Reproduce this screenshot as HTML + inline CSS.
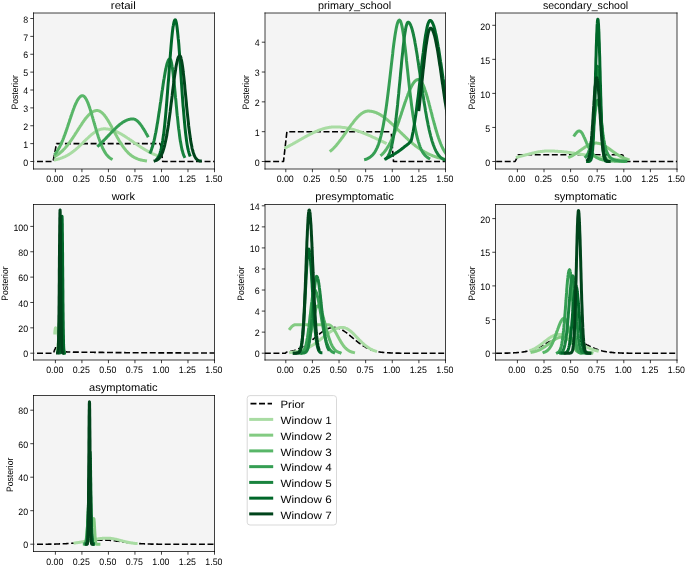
<!DOCTYPE html>
<html><head><meta charset="utf-8"><title>Posterior</title><style>html,body{margin:0;padding:0;background:#fff;width:685px;height:565px;overflow:hidden;}svg{display:block;font-family:"Liberation Sans",sans-serif;text-rendering:geometricPrecision;}svg{will-change:transform}</style></head><body>
<svg width="685" height="565" viewBox="0 0 685 565">
<rect x="0" y="0" width="685" height="565" fill="#fff"/>
<defs>
<clipPath id="c0"><rect x="33.50" y="13.00" width="181.00" height="156.00"/></clipPath>
<clipPath id="c1"><rect x="265.00" y="13.00" width="180.50" height="156.00"/></clipPath>
<clipPath id="c2"><rect x="495.50" y="13.00" width="181.50" height="156.00"/></clipPath>
<clipPath id="c3"><rect x="33.50" y="204.50" width="181.00" height="155.50"/></clipPath>
<clipPath id="c4"><rect x="265.00" y="204.50" width="180.50" height="155.50"/></clipPath>
<clipPath id="c5"><rect x="495.50" y="204.50" width="181.50" height="155.50"/></clipPath>
<clipPath id="c6"><rect x="33.50" y="395.50" width="181.00" height="156.00"/></clipPath>
</defs>
<g font-family='&quot;Liberation Sans&quot;, sans-serif' fill="#000">
<rect x="33.50" y="13.00" width="181.00" height="156.00" fill="#f4f4f4"/>
<g clip-path="url(#c0)" fill="none" stroke-linejoin="round">
<path d="M34.2,161.5 53.1,161.5 56.5,143.6 160.4,143.6" stroke="#000" stroke-width="1.6" stroke-dasharray="5.96,2.59" stroke-dashoffset="5.74"/>
<path d="M160.4,143.6 162.7,161.5 214.5,161.5" stroke="#000" stroke-width="1.6" stroke-dasharray="5.96,2.59" stroke-dashoffset="8.51"/>
<path d="M55.4,159.8 56.0,159.6 56.7,159.5 57.3,159.3 58.0,159.1 58.6,159.0 59.3,158.8 59.9,158.6 60.5,158.4 61.2,158.1 61.8,157.9 62.5,157.7 63.1,157.4 63.7,157.1 64.4,156.8 65.0,156.6 65.7,156.2 66.3,155.9 67.0,155.6 67.6,155.2 68.2,154.8 68.9,154.5 69.5,154.1 70.2,153.6 70.8,153.2 71.4,152.8 72.1,152.3 72.7,151.8 73.4,151.3 74.0,150.8 74.7,150.3 75.3,149.8 75.9,149.3 76.6,148.7 77.2,148.1 77.9,147.6 78.5,147.0 79.1,146.4 79.8,145.8 80.4,145.2 81.1,144.6 81.7,143.9 82.4,143.3 83.0,142.7 83.6,142.1 84.3,141.4 84.9,140.8 85.6,140.2 86.2,139.5 86.8,138.9 87.5,138.3 88.1,137.7 88.8,137.1 89.4,136.5 90.1,135.9 90.7,135.4 91.3,134.8 92.0,134.3 92.6,133.8 93.3,133.3 93.9,132.8 94.5,132.3 95.2,131.9 95.8,131.5 96.5,131.1 97.1,130.7 97.8,130.4 98.4,130.1 99.0,129.8 99.7,129.6 100.3,129.4 101.0,129.2 101.6,129.1 102.2,128.9 102.9,128.9 103.5,128.8 104.2,128.8 104.8,128.8 105.5,128.8 106.1,128.9 106.7,128.9 107.4,129.0 108.0,129.1 108.7,129.2 109.3,129.3 109.9,129.4 110.6,129.6 111.2,129.8 111.9,129.9 112.5,130.1 113.2,130.4 113.8,130.6 114.4,130.8 115.1,131.1 115.7,131.3 116.4,131.6 117.0,131.9 117.6,132.2 118.3,132.5 118.9,132.8 119.6,133.2 120.2,133.5 120.9,133.9 121.5,134.2 122.1,134.6 122.8,135.0 123.4,135.4 124.1,135.8 124.7,136.2 125.3,136.6 126.0,137.0 126.6,137.4 127.3,137.9 127.9,138.3 128.6,138.7 129.2,139.2 129.8,139.6 130.5,140.0 131.1,140.5 131.8,140.9 132.4,141.4 133.1,141.8 133.7,142.3 134.3,142.7 135.0,143.1 135.6,143.6 136.3,144.0 136.9,144.5 137.5,144.9 138.2,145.3 138.8,145.8 139.5,146.2 140.1,146.6 140.8,147.0 141.4,147.4 142.0,147.8 142.7,148.2 143.3,148.6 144.0,149.0 144.6,149.4 145.2,149.8 145.9,150.2 146.5,150.5 147.2,150.9 147.8,151.2 148.5,151.6 149.1,151.9 149.7,152.3 150.4,152.6 151.0,152.9 151.7,153.2 152.3,153.5 152.9,153.8 153.6,154.1 154.2,154.4 154.9,154.7 155.5,154.9 156.2,155.2 156.8,155.4 157.4,155.7" stroke="#a9dca3" stroke-width="3.00" stroke-linecap="square"/>
<path d="M55.4,156.2 56.0,155.8 56.5,155.5 57.1,155.1 57.7,154.7 58.2,154.3 58.8,153.9 59.4,153.5 59.9,153.0 60.5,152.5 61.1,152.1 61.6,151.5 62.2,151.0 62.8,150.5 63.3,149.9 63.9,149.3 64.5,148.7 65.0,148.1 65.6,147.4 66.2,146.8 66.7,146.1 67.3,145.4 67.9,144.7 68.4,144.0 69.0,143.2 69.6,142.5 70.1,141.7 70.7,140.9 71.3,140.1 71.8,139.3 72.4,138.4 73.0,137.6 73.5,136.7 74.1,135.9 74.7,135.0 75.2,134.1 75.8,133.2 76.4,132.3 76.9,131.5 77.5,130.6 78.1,129.7 78.6,128.8 79.2,127.9 79.8,127.0 80.3,126.1 80.9,125.3 81.5,124.4 82.0,123.6 82.6,122.7 83.2,121.9 83.7,121.1 84.3,120.3 84.9,119.6 85.4,118.8 86.0,118.1 86.5,117.4 87.1,116.7 87.7,116.1 88.2,115.5 88.8,114.9 89.4,114.3 89.9,113.8 90.5,113.3 91.1,112.9 91.6,112.5 92.2,112.1 92.8,111.8 93.3,111.5 93.9,111.2 94.5,111.0 95.0,110.8 95.6,110.7 96.2,110.6 96.7,110.6 97.3,110.6 97.9,110.6 98.4,110.7 99.0,110.9 99.6,111.1 100.1,111.4 100.7,111.8 101.3,112.2 101.8,112.6 102.4,113.1 103.0,113.7 103.5,114.3 104.1,114.9 104.7,115.6 105.2,116.4 105.8,117.2 106.4,118.0 106.9,118.8 107.5,119.7 108.1,120.6 108.6,121.6 109.2,122.5 109.8,123.5 110.3,124.5 110.9,125.6 111.5,126.6 112.0,127.6 112.6,128.7 113.2,129.7 113.7,130.8 114.3,131.9 114.9,132.9 115.4,134.0 116.0,135.0 116.6,136.0 117.1,137.0 117.7,138.1 118.3,139.0 118.8,140.0 119.4,141.0 120.0,141.9 120.5,142.8 121.1,143.7 121.7,144.6 122.2,145.4 122.8,146.3 123.4,147.1 123.9,147.8 124.5,148.6 125.1,149.3 125.6,150.0 126.2,150.7 126.8,151.3 127.3,151.9 127.9,152.5 128.5,153.1 129.0,153.6 129.6,154.1 130.2,154.6 130.7,155.1 131.3,155.5 131.9,155.9 132.4,156.3 133.0,156.7 133.6,157.0 134.1,157.3 134.7,157.7 135.3,157.9 135.8,158.2 136.4,158.5 137.0,158.7 137.5,158.9 138.1,159.1 138.7,159.3 139.2,159.5 139.8,159.7 140.4,159.8 140.9,160.0 141.5,160.1 142.1,160.2 142.6,160.3 143.2,160.4 143.8,160.5 144.3,160.6 144.9,160.7 145.5,160.8" stroke="#83cb82" stroke-width="3.00" stroke-linecap="square"/>
<path d="M55.4,153.6 55.8,153.1 56.1,152.7 56.5,152.2 56.8,151.7 57.2,151.1 57.5,150.6 57.9,150.0 58.2,149.5 58.6,148.9 58.9,148.2 59.3,147.6 59.6,146.9 60.0,146.2 60.3,145.5 60.7,144.8 61.0,144.1 61.4,143.3 61.7,142.5 62.1,141.7 62.4,140.9 62.8,140.0 63.1,139.2 63.5,138.3 63.8,137.4 64.2,136.4 64.5,135.5 64.9,134.6 65.2,133.6 65.6,132.6 65.9,131.6 66.3,130.6 66.6,129.6 67.0,128.6 67.3,127.5 67.7,126.5 68.0,125.4 68.4,124.4 68.7,123.3 69.1,122.2 69.4,121.2 69.8,120.1 70.1,119.1 70.5,118.0 70.8,116.9 71.2,115.9 71.5,114.9 71.9,113.8 72.2,112.8 72.6,111.8 72.9,110.8 73.3,109.9 73.6,108.9 74.0,108.0 74.3,107.1 74.7,106.2 75.0,105.3 75.4,104.5 75.8,103.7 76.1,102.9 76.5,102.2 76.8,101.5 77.2,100.8 77.5,100.2 77.9,99.6 78.2,99.0 78.6,98.5 78.9,98.1 79.3,97.6 79.6,97.2 80.0,96.9 80.3,96.6 80.7,96.3 81.0,96.1 81.4,95.9 81.7,95.8 82.1,95.7 82.4,95.7 82.8,95.7 83.1,95.8 83.5,96.0 83.8,96.2 84.2,96.5 84.5,96.8 84.9,97.2 85.2,97.7 85.6,98.2 85.9,98.7 86.3,99.4 86.6,100.0 87.0,100.8 87.3,101.5 87.7,102.4 88.0,103.2 88.4,104.1 88.7,105.1 89.1,106.1 89.4,107.1 89.8,108.1 90.1,109.2 90.5,110.3 90.8,111.5 91.2,112.6 91.5,113.8 91.9,115.0 92.2,116.2 92.6,117.4 92.9,118.6 93.3,119.8 93.6,121.1 94.0,122.3 94.3,123.5 94.7,124.8 95.1,126.0 95.4,127.2 95.8,128.4 96.1,129.6 96.5,130.8 96.8,131.9 97.2,133.1 97.5,134.2 97.9,135.3 98.2,136.4 98.6,137.5 98.9,138.5 99.3,139.5 99.6,140.5 100.0,141.5 100.3,142.4 100.7,143.4 101.0,144.2 101.4,145.1 101.7,145.9 102.1,146.7 102.4,147.5 102.8,148.3 103.1,149.0 103.5,149.7 103.8,150.3 104.2,151.0 104.5,151.6 104.9,152.2 105.2,152.7 105.6,153.3 105.9,153.8 106.3,154.2 106.6,154.7 107.0,155.1 107.3,155.6 107.7,155.9 108.0,156.3 108.4,156.7 108.7,157.0 109.1,157.3 109.4,157.6 109.8,157.9 110.1,158.1 110.5,158.4 110.8,158.6 111.2,158.8" stroke="#58b668" stroke-width="3.00" stroke-linecap="square"/>
<path d="M98.4,145.7 98.7,145.4 99.0,145.2 99.3,144.9 99.6,144.6 99.9,144.3 100.2,144.0 100.5,143.7 100.8,143.4 101.1,143.1 101.5,142.8 101.8,142.5 102.1,142.2 102.4,141.9 102.7,141.6 103.0,141.2 103.3,140.9 103.6,140.6 103.9,140.3 104.2,140.0 104.5,139.7 104.9,139.3 105.2,139.0 105.5,138.7 105.8,138.4 106.1,138.1 106.4,137.7 106.7,137.4 107.0,137.1 107.3,136.7 107.6,136.4 108.0,136.1 108.3,135.8 108.6,135.4 108.9,135.1 109.2,134.8 109.5,134.5 109.8,134.1 110.1,133.8 110.4,133.5 110.7,133.2 111.0,132.8 111.4,132.5 111.7,132.2 112.0,131.9 112.3,131.5 112.6,131.2 112.9,130.9 113.2,130.6 113.5,130.3 113.8,130.0 114.1,129.7 114.5,129.4 114.8,129.1 115.1,128.8 115.4,128.5 115.7,128.2 116.0,127.9 116.3,127.6 116.6,127.3 116.9,127.0 117.2,126.7 117.5,126.4 117.9,126.2 118.2,125.9 118.5,125.6 118.8,125.4 119.1,125.1 119.4,124.8 119.7,124.6 120.0,124.3 120.3,124.1 120.6,123.9 121.0,123.6 121.3,123.4 121.6,123.2 121.9,123.0 122.2,122.7 122.5,122.5 122.8,122.3 123.1,122.1 123.4,121.9 123.7,121.7 124.0,121.6 124.4,121.4 124.7,121.2 125.0,121.0 125.3,120.9 125.6,120.7 125.9,120.6 126.2,120.4 126.5,120.3 126.8,120.2 127.1,120.1 127.5,119.9 127.8,119.8 128.1,119.7 128.4,119.6 128.7,119.5 129.0,119.4 129.3,119.4 129.6,119.3 129.9,119.2 130.2,119.2 130.5,119.1 130.9,119.1 131.2,119.0 131.5,119.0 131.8,119.0 132.1,119.0 132.4,119.0 132.7,119.0 133.0,119.0 133.3,119.0 133.6,119.0 134.0,119.1 134.3,119.2 134.6,119.3 134.9,119.4 135.2,119.5 135.5,119.7 135.8,119.9 136.1,120.1 136.4,120.3 136.7,120.5 137.0,120.7 137.4,121.0 137.7,121.3 138.0,121.6 138.3,121.9 138.6,122.2 138.9,122.5 139.2,122.9 139.5,123.3 139.8,123.6 140.1,124.0 140.5,124.4 140.8,124.8 141.1,125.3 141.4,125.7 141.7,126.1 142.0,126.6 142.3,127.1 142.6,127.5 142.9,128.0 143.2,128.5 143.5,129.0 143.9,129.5 144.2,130.0 144.5,130.5 144.8,131.1 145.1,131.6 145.4,132.1 145.7,132.6 146.0,133.2 146.3,133.7 146.6,134.3 147.0,134.8 147.3,135.3 147.6,135.9" stroke="#359e53" stroke-width="3.00" stroke-linecap="square"/>
<path d="M150.4,152.2 150.6,151.7 150.9,151.2 151.1,150.6 151.3,150.1 151.5,149.5 151.7,148.9 151.9,148.3 152.1,147.6 152.4,146.9 152.6,146.2 152.8,145.5 153.0,144.7 153.2,144.0 153.4,143.1 153.6,142.3 153.8,141.5 154.1,140.6 154.3,139.7 154.5,138.7 154.7,137.8 154.9,136.8 155.1,135.8 155.3,134.7 155.5,133.7 155.8,132.6 156.0,131.4 156.2,130.3 156.4,129.1 156.6,127.9 156.8,126.7 157.0,125.5 157.2,124.2 157.5,122.9 157.7,121.6 157.9,120.3 158.1,118.9 158.3,117.6 158.5,116.2 158.7,114.8 158.9,113.4 159.2,111.9 159.4,110.5 159.6,109.0 159.8,107.6 160.0,106.1 160.2,104.6 160.4,103.1 160.7,101.7 160.9,100.2 161.1,98.7 161.3,97.2 161.5,95.7 161.7,94.2 161.9,92.7 162.1,91.2 162.4,89.8 162.6,88.3 162.8,86.9 163.0,85.5 163.2,84.0 163.4,82.7 163.6,81.3 163.8,80.0 164.1,78.6 164.3,77.4 164.5,76.1 164.7,74.9 164.9,73.7 165.1,72.5 165.3,71.4 165.5,70.3 165.8,69.3 166.0,68.3 166.2,67.3 166.4,66.4 166.6,65.5 166.8,64.7 167.0,63.9 167.2,63.2 167.5,62.6 167.7,61.9 167.9,61.4 168.1,60.9 168.3,60.4 168.5,60.0 168.7,59.7 168.9,59.4 169.2,59.2 169.4,59.0 169.6,58.9 169.8,58.9 170.0,58.9 170.2,59.1 170.4,59.4 170.7,59.9 170.9,60.4 171.1,61.1 171.3,62.0 171.5,62.9 171.7,64.0 171.9,65.2 172.1,66.5 172.4,67.9 172.6,69.4 172.8,71.0 173.0,72.6 173.2,74.4 173.4,76.3 173.6,78.2 173.8,80.2 174.1,82.2 174.3,84.3 174.5,86.4 174.7,88.6 174.9,90.8 175.1,93.0 175.3,95.3 175.5,97.5 175.8,99.8 176.0,102.0 176.2,104.3 176.4,106.5 176.6,108.7 176.8,110.9 177.0,113.1 177.2,115.2 177.5,117.3 177.7,119.4 177.9,121.4 178.1,123.4 178.3,125.3 178.5,127.2 178.7,129.0 179.0,130.7 179.2,132.4 179.4,134.1 179.6,135.7 179.8,137.2 180.0,138.7 180.2,140.1 180.4,141.4 180.7,142.7 180.9,143.9 181.1,145.1 181.3,146.2 181.5,147.3 181.7,148.3 181.9,149.2 182.1,150.1 182.4,150.9 182.6,151.7 182.8,152.5 183.0,153.2 183.2,153.8 183.4,154.4 183.6,155.0 183.8,155.6 184.1,156.1 184.3,156.5" stroke="#19833e" stroke-width="3.00" stroke-linecap="square"/>
<path d="M157.2,158.8 157.4,158.6 157.6,158.3 157.8,158.0 158.0,157.7 158.2,157.3 158.4,157.0 158.7,156.6 158.9,156.2 159.1,155.7 159.3,155.2 159.5,154.7 159.7,154.1 159.9,153.5 160.1,152.9 160.3,152.2 160.5,151.5 160.7,150.8 160.9,149.9 161.1,149.1 161.3,148.2 161.5,147.2 161.7,146.2 161.9,145.2 162.1,144.1 162.3,142.9 162.5,141.6 162.7,140.4 162.9,139.0 163.1,137.6 163.3,136.1 163.6,134.6 163.8,133.0 164.0,131.3 164.2,129.5 164.4,127.7 164.6,125.9 164.8,123.9 165.0,121.9 165.2,119.9 165.4,117.8 165.6,115.6 165.8,113.3 166.0,111.1 166.2,108.7 166.4,106.3 166.6,103.8 166.8,101.3 167.0,98.8 167.2,96.2 167.4,93.6 167.6,90.9 167.8,88.2 168.0,85.5 168.2,82.8 168.5,80.0 168.7,77.3 168.9,74.5 169.1,71.8 169.3,69.0 169.5,66.3 169.7,63.6 169.9,60.9 170.1,58.2 170.3,55.6 170.5,53.0 170.7,50.5 170.9,48.1 171.1,45.7 171.3,43.3 171.5,41.1 171.7,38.9 171.9,36.9 172.1,34.9 172.3,33.0 172.5,31.2 172.7,29.6 172.9,28.0 173.1,26.6 173.4,25.3 173.6,24.1 173.8,23.1 174.0,22.2 174.2,21.4 174.4,20.8 174.6,20.3 174.8,20.0 175.0,19.8 175.2,19.8 175.4,19.9 175.6,20.2 175.8,20.6 176.0,21.3 176.2,22.1 176.4,23.0 176.6,24.2 176.8,25.4 177.0,26.9 177.2,28.5 177.4,30.2 177.6,32.1 177.8,34.1 178.0,36.2 178.2,38.4 178.5,40.8 178.7,43.2 178.9,45.7 179.1,48.4 179.3,51.0 179.5,53.8 179.7,56.6 179.9,59.5 180.1,62.4 180.3,65.4 180.5,68.3 180.7,71.3 180.9,74.3 181.1,77.4 181.3,80.4 181.5,83.3 181.7,86.3 181.9,89.3 182.1,92.2 182.3,95.1 182.5,97.9 182.7,100.7 182.9,103.4 183.1,106.1 183.4,108.8 183.6,111.3 183.8,113.8 184.0,116.2 184.2,118.6 184.4,120.9 184.6,123.1 184.8,125.2 185.0,127.3 185.2,129.3 185.4,131.2 185.6,133.0 185.8,134.7 186.0,136.4 186.2,138.0 186.4,139.5 186.6,141.0 186.8,142.4 187.0,143.7 187.2,144.9 187.4,146.1 187.6,147.2 187.8,148.2 188.0,149.2 188.3,150.1 188.5,151.0 188.7,151.8 188.9,152.6 189.1,153.3 189.3,153.9 189.5,154.6 189.7,155.1" stroke="#006729" stroke-width="3.00" stroke-linecap="square"/>
<path d="M155.1,160.8 155.4,160.7 155.7,160.6 156.0,160.5 156.2,160.4 156.5,160.3 156.8,160.1 157.1,160.0 157.4,159.8 157.7,159.6 157.9,159.4 158.2,159.2 158.5,158.9 158.8,158.7 159.1,158.4 159.4,158.1 159.6,157.7 159.9,157.3 160.2,156.9 160.5,156.5 160.8,156.0 161.1,155.5 161.4,155.0 161.6,154.4 161.9,153.8 162.2,153.1 162.5,152.4 162.8,151.6 163.1,150.8 163.3,150.0 163.6,149.0 163.9,148.1 164.2,147.0 164.5,146.0 164.8,144.8 165.0,143.6 165.3,142.4 165.6,141.0 165.9,139.6 166.2,138.2 166.5,136.7 166.8,135.1 167.0,133.5 167.3,131.8 167.6,130.0 167.9,128.2 168.2,126.3 168.5,124.4 168.7,122.4 169.0,120.3 169.3,118.2 169.6,116.1 169.9,113.9 170.2,111.7 170.4,109.5 170.7,107.2 171.0,104.9 171.3,102.5 171.6,100.2 171.9,97.9 172.2,95.5 172.4,93.2 172.7,90.8 173.0,88.5 173.3,86.3 173.6,84.0 173.9,81.8 174.1,79.6 174.4,77.5 174.7,75.4 175.0,73.5 175.3,71.5 175.6,69.7 175.8,68.0 176.1,66.3 176.4,64.8 176.7,63.3 177.0,62.0 177.3,60.8 177.6,59.7 177.8,58.7 178.1,57.9 178.4,57.2 178.7,56.6 179.0,56.2 179.3,55.9 179.5,55.7 179.8,55.7 180.1,55.9 180.4,56.3 180.7,57.0 181.0,57.9 181.2,59.0 181.5,60.3 181.8,61.8 182.1,63.5 182.4,65.4 182.7,67.4 183.0,69.6 183.2,72.0 183.5,74.4 183.8,77.0 184.1,79.7 184.4,82.5 184.7,85.3 184.9,88.3 185.2,91.2 185.5,94.2 185.8,97.2 186.1,100.1 186.4,103.1 186.6,106.1 186.9,109.0 187.2,111.9 187.5,114.7 187.8,117.4 188.1,120.1 188.4,122.7 188.6,125.2 188.9,127.7 189.2,130.0 189.5,132.2 189.8,134.4 190.1,136.4 190.3,138.3 190.6,140.2 190.9,141.9 191.2,143.5 191.5,145.0 191.8,146.5 192.0,147.8 192.3,149.1 192.6,150.2 192.9,151.3 193.2,152.3 193.5,153.2 193.8,154.0 194.0,154.8 194.3,155.5 194.6,156.1 194.9,156.7 195.2,157.2 195.5,157.7 195.7,158.2 196.0,158.5 196.3,158.9 196.6,159.2 196.9,159.5 197.2,159.7 197.4,160.0 197.7,160.2 198.0,160.3 198.3,160.5 198.6,160.6 198.9,160.7 199.2,160.8 199.4,160.9 199.7,161.0 200.0,161.1 200.3,161.1" stroke="#00441b" stroke-width="3.00" stroke-linecap="square"/>
</g>
<path d="M33.50,13.00 H214.50 M33.50,169.00 H214.50 M33.50,13.00 V169.00 M214.50,13.00 V169.00" stroke="#000" stroke-width="0.75" fill="none" stroke-linecap="square"/>
<text x="54.80" y="182.10" font-size="9.30" text-anchor="middle" textLength="17.14" lengthAdjust="spacingAndGlyphs">0.00</text>
<text x="81.32" y="182.10" font-size="9.30" text-anchor="middle" textLength="17.14" lengthAdjust="spacingAndGlyphs">0.25</text>
<text x="107.83" y="182.10" font-size="9.30" text-anchor="middle" textLength="17.14" lengthAdjust="spacingAndGlyphs">0.50</text>
<text x="134.35" y="182.10" font-size="9.30" text-anchor="middle" textLength="17.14" lengthAdjust="spacingAndGlyphs">0.75</text>
<text x="160.87" y="182.10" font-size="9.30" text-anchor="middle" textLength="17.14" lengthAdjust="spacingAndGlyphs">1.00</text>
<text x="187.38" y="182.10" font-size="9.30" text-anchor="middle" textLength="17.14" lengthAdjust="spacingAndGlyphs">1.25</text>
<text x="213.90" y="182.10" font-size="9.30" text-anchor="middle" textLength="17.14" lengthAdjust="spacingAndGlyphs">1.50</text>
<text x="28.10" y="165.70" font-size="9.30" text-anchor="end" textLength="4.90" lengthAdjust="spacingAndGlyphs">0</text>
<text x="28.10" y="147.82" font-size="9.30" text-anchor="end" textLength="4.90" lengthAdjust="spacingAndGlyphs">1</text>
<text x="28.10" y="129.95" font-size="9.30" text-anchor="end" textLength="4.90" lengthAdjust="spacingAndGlyphs">2</text>
<text x="28.10" y="112.08" font-size="9.30" text-anchor="end" textLength="4.90" lengthAdjust="spacingAndGlyphs">3</text>
<text x="28.10" y="94.20" font-size="9.30" text-anchor="end" textLength="4.90" lengthAdjust="spacingAndGlyphs">4</text>
<text x="28.10" y="76.33" font-size="9.30" text-anchor="end" textLength="4.90" lengthAdjust="spacingAndGlyphs">5</text>
<text x="28.10" y="58.45" font-size="9.30" text-anchor="end" textLength="4.90" lengthAdjust="spacingAndGlyphs">6</text>
<text x="28.10" y="40.58" font-size="9.30" text-anchor="end" textLength="4.90" lengthAdjust="spacingAndGlyphs">7</text>
<text x="28.10" y="22.70" font-size="9.30" text-anchor="end" textLength="4.90" lengthAdjust="spacingAndGlyphs">8</text>
<path d="M55.40,169.00 V172.20 M81.92,169.00 V172.20 M108.43,169.00 V172.20 M134.95,169.00 V172.20 M161.47,169.00 V172.20 M187.98,169.00 V172.20 M214.50,169.00 V172.20 M30.30,161.50 H33.50 M30.30,143.62 H33.50 M30.30,125.75 H33.50 M30.30,107.88 H33.50 M30.30,90.00 H33.50 M30.30,72.12 H33.50 M30.30,54.25 H33.50 M30.30,36.38 H33.50 M30.30,18.50 H33.50" stroke="#000" stroke-width="0.75" fill="none"/>
<text x="123.30" y="8.60" font-size="10.80" text-anchor="middle" textLength="24.83" lengthAdjust="spacingAndGlyphs">retail</text>
<text x="0.00" y="0.00" font-size="9.30" text-anchor="middle" textLength="34.30" lengthAdjust="spacingAndGlyphs" transform="translate(17.90,92.30) rotate(-90)">Posterior</text>
<rect x="265.00" y="13.00" width="180.50" height="156.00" fill="#f4f4f4"/>
<g clip-path="url(#c1)" fill="none" stroke-linejoin="round">
<path d="M264.5,161.5 283.5,161.5 286.9,131.7 391.2,131.7" stroke="#000" stroke-width="1.6" stroke-dasharray="5.96,2.59" stroke-dashoffset="8.46"/>
<path d="M391.2,131.7 393.5,161.5 445.5,161.5" stroke="#000" stroke-width="1.6" stroke-dasharray="5.96,2.59" stroke-dashoffset="6.48"/>
<path d="M285.8,147.7 286.4,147.3 287.1,147.0 287.7,146.7 288.3,146.4 288.9,146.0 289.6,145.7 290.2,145.3 290.8,145.0 291.4,144.7 292.1,144.3 292.7,144.0 293.3,143.6 293.9,143.3 294.6,142.9 295.2,142.6 295.8,142.2 296.4,141.9 297.1,141.5 297.7,141.1 298.3,140.8 298.9,140.4 299.6,140.1 300.2,139.7 300.8,139.4 301.5,139.0 302.1,138.6 302.7,138.3 303.3,137.9 304.0,137.6 304.6,137.2 305.2,136.9 305.8,136.5 306.5,136.2 307.1,135.9 307.7,135.5 308.3,135.2 309.0,134.9 309.6,134.5 310.2,134.2 310.8,133.9 311.5,133.6 312.1,133.3 312.7,133.0 313.3,132.7 314.0,132.4 314.6,132.1 315.2,131.8 315.9,131.5 316.5,131.3 317.1,131.0 317.7,130.7 318.4,130.5 319.0,130.2 319.6,130.0 320.2,129.8 320.9,129.6 321.5,129.3 322.1,129.1 322.7,128.9 323.4,128.7 324.0,128.6 324.6,128.4 325.2,128.2 325.9,128.1 326.5,127.9 327.1,127.8 327.7,127.7 328.4,127.6 329.0,127.4 329.6,127.3 330.3,127.3 330.9,127.2 331.5,127.1 332.1,127.1 332.8,127.0 333.4,127.0 334.0,126.9 334.6,126.9 335.3,126.9 335.9,126.9 336.5,126.9 337.1,126.9 337.8,126.9 338.4,127.0 339.0,127.0 339.6,127.0 340.3,127.1 340.9,127.2 341.5,127.2 342.1,127.3 342.8,127.4 343.4,127.4 344.0,127.5 344.7,127.6 345.3,127.7 345.9,127.8 346.5,127.9 347.2,128.1 347.8,128.2 348.4,128.3 349.0,128.4 349.7,128.6 350.3,128.7 350.9,128.9 351.5,129.1 352.2,129.2 352.8,129.4 353.4,129.6 354.0,129.7 354.7,129.9 355.3,130.1 355.9,130.3 356.5,130.5 357.2,130.7 357.8,130.9 358.4,131.2 359.1,131.4 359.7,131.6 360.3,131.8 360.9,132.1 361.6,132.3 362.2,132.5 362.8,132.8 363.4,133.0 364.1,133.3 364.7,133.5 365.3,133.8 365.9,134.0 366.6,134.3 367.2,134.6 367.8,134.8 368.4,135.1 369.1,135.4 369.7,135.7 370.3,135.9 370.9,136.2 371.6,136.5 372.2,136.8 372.8,137.1 373.5,137.4 374.1,137.6 374.7,137.9 375.3,138.2 376.0,138.5 376.6,138.8 377.2,139.1 377.8,139.4 378.5,139.7 379.1,140.0 379.7,140.3 380.3,140.6 381.0,140.9 381.6,141.2 382.2,141.4 382.8,141.7 383.5,142.0 384.1,142.3 384.7,142.6 385.3,142.9" stroke="#a9dca3" stroke-width="3.00" stroke-linecap="square"/>
<path d="M330.9,150.7 331.6,150.1 332.4,149.4 333.1,148.7 333.8,148.0 334.5,147.2 335.2,146.5 335.9,145.7 336.6,144.9 337.3,144.0 338.0,143.2 338.7,142.3 339.4,141.4 340.1,140.5 340.8,139.6 341.5,138.6 342.3,137.7 343.0,136.7 343.7,135.7 344.4,134.7 345.1,133.7 345.8,132.7 346.5,131.7 347.2,130.7 347.9,129.6 348.6,128.6 349.3,127.6 350.0,126.6 350.7,125.6 351.4,124.7 352.2,123.7 352.9,122.8 353.6,121.8 354.3,120.9 355.0,120.1 355.7,119.2 356.4,118.4 357.1,117.6 357.8,116.9 358.5,116.2 359.2,115.5 359.9,114.9 360.6,114.3 361.3,113.7 362.1,113.2 362.8,112.8 363.5,112.4 364.2,112.0 364.9,111.7 365.6,111.5 366.3,111.3 367.0,111.2 367.7,111.1 368.4,111.1 369.1,111.1 369.8,111.2 370.5,111.2 371.2,111.3 372.0,111.4 372.7,111.6 373.4,111.8 374.1,112.0 374.8,112.2 375.5,112.4 376.2,112.7 376.9,113.0 377.6,113.3 378.3,113.7 379.0,114.0 379.7,114.4 380.4,114.8 381.1,115.3 381.9,115.7 382.6,116.2 383.3,116.7 384.0,117.2 384.7,117.7 385.4,118.2 386.1,118.8 386.8,119.4 387.5,120.0 388.2,120.6 388.9,121.2 389.6,121.8 390.3,122.4 391.0,123.1 391.8,123.7 392.5,124.4 393.2,125.0 393.9,125.7 394.6,126.4 395.3,127.1 396.0,127.8 396.7,128.5 397.4,129.2 398.1,129.9 398.8,130.6 399.5,131.3 400.2,132.0 400.9,132.7 401.7,133.4 402.4,134.1 403.1,134.7 403.8,135.4 404.5,136.1 405.2,136.8 405.9,137.5 406.6,138.1 407.3,138.8 408.0,139.5 408.7,140.1 409.4,140.7 410.1,141.4 410.8,142.0 411.6,142.6 412.3,143.2 413.0,143.8 413.7,144.4 414.4,144.9 415.1,145.5 415.8,146.1 416.5,146.6 417.2,147.1 417.9,147.6 418.6,148.1 419.3,148.6 420.0,149.1 420.7,149.6 421.5,150.0 422.2,150.5 422.9,150.9 423.6,151.3 424.3,151.8 425.0,152.1 425.7,152.5 426.4,152.9 427.1,153.3 427.8,153.6 428.5,154.0 429.2,154.3 429.9,154.6 430.6,154.9 431.3,155.2 432.1,155.5 432.8,155.8 433.5,156.1 434.2,156.3 434.9,156.6 435.6,156.8 436.3,157.0 437.0,157.3 437.7,157.5 438.4,157.7 439.1,157.9 439.8,158.1 440.5,158.2 441.2,158.4 442.0,158.6 442.7,158.7 443.4,158.9" stroke="#83cb82" stroke-width="3.00" stroke-linecap="square"/>
<path d="M381.6,154.8 382.1,154.4 382.5,154.0 382.9,153.5 383.4,153.1 383.8,152.6 384.3,152.0 384.7,151.5 385.2,150.9 385.6,150.3 386.0,149.7 386.5,149.1 386.9,148.4 387.4,147.7 387.8,147.0 388.2,146.3 388.7,145.5 389.1,144.7 389.6,143.9 390.0,143.1 390.5,142.2 390.9,141.3 391.3,140.4 391.8,139.4 392.2,138.5 392.7,137.4 393.1,136.4 393.6,135.4 394.0,134.3 394.4,133.2 394.9,132.1 395.3,130.9 395.8,129.8 396.2,128.6 396.6,127.4 397.1,126.1 397.5,124.9 398.0,123.6 398.4,122.3 398.9,121.1 399.3,119.7 399.7,118.4 400.2,117.1 400.6,115.8 401.1,114.5 401.5,113.1 401.9,111.8 402.4,110.4 402.8,109.1 403.3,107.8 403.7,106.4 404.2,105.1 404.6,103.8 405.0,102.5 405.5,101.2 405.9,100.0 406.4,98.7 406.8,97.5 407.3,96.3 407.7,95.1 408.1,93.9 408.6,92.8 409.0,91.7 409.5,90.7 409.9,89.7 410.3,88.7 410.8,87.8 411.2,86.9 411.7,86.0 412.1,85.2 412.6,84.4 413.0,83.7 413.4,83.1 413.9,82.5 414.3,81.9 414.8,81.4 415.2,81.0 415.6,80.6 416.1,80.3 416.5,80.0 417.0,79.8 417.4,79.6 417.9,79.5 418.3,79.5 418.7,79.5 419.2,79.7 419.6,79.9 420.1,80.2 420.5,80.6 421.0,81.2 421.4,81.8 421.8,82.5 422.3,83.3 422.7,84.1 423.2,85.1 423.6,86.1 424.0,87.2 424.5,88.4 424.9,89.7 425.4,91.0 425.8,92.3 426.3,93.8 426.7,95.2 427.1,96.8 427.6,98.3 428.0,99.9 428.5,101.5 428.9,103.2 429.3,104.9 429.8,106.6 430.2,108.3 430.7,110.0 431.1,111.7 431.6,113.4 432.0,115.2 432.4,116.9 432.9,118.6 433.3,120.2 433.8,121.9 434.2,123.5 434.7,125.2 435.1,126.7 435.5,128.3 436.0,129.8 436.4,131.3 436.9,132.8 437.3,134.2 437.7,135.6 438.2,136.9 438.6,138.2 439.1,139.5 439.5,140.7 440.0,141.9 440.4,143.0 440.8,144.1 441.3,145.1 441.7,146.1 442.2,147.1 442.6,148.0 443.0,148.8 443.5,149.7 443.9,150.5 444.4,151.2 444.8,151.9 445.3,152.6 445.7,153.2 446.1,153.8 446.6,154.4 447.0,154.9 447.5,155.4 447.9,155.9 448.4,156.3 448.8,156.7 449.2,157.1 449.7,157.4 450.1,157.8 450.6,158.1 451.0,158.4 451.4,158.6 451.9,158.9" stroke="#58b668" stroke-width="3.00" stroke-linecap="square"/>
<path d="M365.6,159.4 366.0,159.3 366.4,159.1 366.8,159.0 367.2,158.8 367.6,158.6 368.0,158.4 368.4,158.2 368.8,158.0 369.2,157.7 369.6,157.5 370.0,157.2 370.4,156.9 370.8,156.6 371.2,156.3 371.6,155.9 372.0,155.6 372.4,155.1 372.8,154.7 373.2,154.2 373.6,153.8 374.0,153.2 374.4,152.7 374.8,152.1 375.2,151.4 375.6,150.7 376.0,150.0 376.4,149.2 376.8,148.4 377.2,147.6 377.6,146.6 378.0,145.6 378.4,144.6 378.8,143.5 379.2,142.3 379.5,141.0 379.9,139.7 380.3,138.3 380.7,136.8 381.1,135.3 381.5,133.6 381.9,131.9 382.3,130.1 382.7,128.2 383.1,126.2 383.5,124.1 383.9,121.8 384.3,119.5 384.7,117.1 385.1,114.6 385.5,112.0 385.9,109.4 386.3,106.6 386.7,103.7 387.1,100.7 387.5,97.6 387.9,94.5 388.3,91.3 388.7,88.0 389.1,84.7 389.5,81.3 389.9,77.8 390.3,74.4 390.7,70.9 391.1,67.4 391.5,63.9 391.9,60.4 392.3,57.0 392.7,53.7 393.0,50.4 393.4,47.2 393.8,44.0 394.2,41.1 394.6,38.2 395.0,35.5 395.4,33.0 395.8,30.7 396.2,28.5 396.6,26.6 397.0,24.9 397.4,23.5 397.8,22.3 398.2,21.3 398.6,20.7 399.0,20.3 399.4,20.1 399.8,20.3 400.2,20.7 400.6,21.5 401.0,22.6 401.4,23.9 401.8,25.5 402.2,27.4 402.6,29.5 403.0,31.9 403.4,34.5 403.8,37.3 404.2,40.2 404.6,43.4 405.0,46.6 405.4,50.0 405.8,53.5 406.2,57.1 406.5,60.7 406.9,64.3 407.3,68.0 407.7,71.7 408.1,75.4 408.5,79.1 408.9,82.7 409.3,86.3 409.7,89.8 410.1,93.2 410.5,96.6 410.9,99.8 411.3,103.0 411.7,106.1 412.1,109.0 412.5,111.9 412.9,114.7 413.3,117.3 413.7,119.8 414.1,122.3 414.5,124.6 414.9,126.8 415.3,128.9 415.7,130.9 416.1,132.7 416.5,134.5 416.9,136.2 417.3,137.8 417.7,139.3 418.1,140.7 418.5,142.1 418.9,143.3 419.3,144.5 419.7,145.6 420.0,146.7 420.4,147.7 420.8,148.6 421.2,149.4 421.6,150.2 422.0,151.0 422.4,151.7 422.8,152.4 423.2,153.0 423.6,153.5 424.0,154.1 424.4,154.6 424.8,155.0 425.2,155.5 425.6,155.9 426.0,156.3 426.4,156.6 426.8,156.9 427.2,157.3 427.6,157.5 428.0,157.8 428.4,158.1 428.8,158.3" stroke="#359e53" stroke-width="3.00" stroke-linecap="square"/>
<path d="M386.4,158.4 386.8,158.0 387.2,157.5 387.5,156.9 387.9,156.4 388.3,155.7 388.6,155.0 389.0,154.2 389.4,153.3 389.8,152.3 390.1,151.3 390.5,150.1 390.9,148.9 391.2,147.5 391.6,146.0 392.0,144.4 392.4,142.7 392.7,140.9 393.1,138.9 393.5,136.8 393.8,134.6 394.2,132.2 394.6,129.7 395.0,127.1 395.3,124.3 395.7,121.4 396.1,118.3 396.4,115.1 396.8,111.8 397.2,108.4 397.6,104.9 397.9,101.2 398.3,97.5 398.7,93.7 399.0,89.8 399.4,85.9 399.8,82.0 400.2,78.0 400.5,74.0 400.9,70.0 401.3,66.1 401.6,62.2 402.0,58.4 402.4,54.7 402.8,51.1 403.1,47.6 403.5,44.3 403.9,41.1 404.2,38.1 404.6,35.4 405.0,32.8 405.4,30.5 405.7,28.5 406.1,26.7 406.5,25.2 406.9,24.0 407.2,23.1 407.6,22.5 408.0,22.2 408.3,22.2 408.7,22.4 409.1,22.6 409.5,23.0 409.8,23.5 410.2,24.2 410.6,24.9 410.9,25.8 411.3,26.8 411.7,28.0 412.1,29.2 412.4,30.5 412.8,32.0 413.2,33.5 413.5,35.2 413.9,36.9 414.3,38.7 414.7,40.7 415.0,42.6 415.4,44.7 415.8,46.9 416.1,49.1 416.5,51.3 416.9,53.6 417.3,56.0 417.6,58.4 418.0,60.9 418.4,63.3 418.7,65.8 419.1,68.4 419.5,70.9 419.9,73.5 420.2,76.0 420.6,78.6 421.0,81.1 421.3,83.7 421.7,86.2 422.1,88.8 422.5,91.3 422.8,93.8 423.2,96.2 423.6,98.6 423.9,101.0 424.3,103.4 424.7,105.7 425.1,108.0 425.4,110.2 425.8,112.4 426.2,114.5 426.5,116.6 426.9,118.6 427.3,120.6 427.7,122.5 428.0,124.3 428.4,126.1 428.8,127.9 429.1,129.6 429.5,131.2 429.9,132.8 430.3,134.3 430.6,135.8 431.0,137.2 431.4,138.5 431.7,139.8 432.1,141.1 432.5,142.3 432.9,143.4 433.2,144.5 433.6,145.5 434.0,146.5 434.4,147.4 434.7,148.3 435.1,149.2 435.5,150.0 435.8,150.7 436.2,151.5 436.6,152.1 437.0,152.8 437.3,153.4 437.7,154.0 438.1,154.5 438.4,155.0 438.8,155.5 439.2,155.9 439.6,156.3 439.9,156.7 440.3,157.1 440.7,157.4 441.0,157.7 441.4,158.0 441.8,158.3 442.2,158.6 442.5,158.8 442.9,159.0 443.3,159.2 443.6,159.4 444.0,159.6 444.4,159.8 444.8,159.9 445.1,160.1 445.5,160.2" stroke="#19833e" stroke-width="3.00" stroke-linecap="square"/>
<path d="M385.7,158.8 386.1,158.6 386.5,158.4 386.9,158.2 387.3,158.0 387.7,157.7 388.2,157.5 388.6,157.3 389.0,157.1 389.4,156.8 389.8,156.6 390.2,156.4 390.7,156.1 391.1,155.9 391.5,155.7 391.9,155.4 392.3,155.2 392.7,154.9 393.2,154.7 393.6,154.5 394.0,154.2 394.4,154.0 394.8,153.7 395.2,153.5 395.7,153.2 396.1,152.9 396.5,152.7 396.9,152.4 397.3,152.1 397.7,151.9 398.2,151.6 398.6,151.3 399.0,151.0 399.4,150.7 399.8,150.4 400.2,150.1 400.7,149.8 401.1,149.5 401.5,149.2 401.9,148.8 402.3,148.5 402.7,148.2 403.2,147.9 403.6,147.5 404.0,147.2 404.4,146.8 404.8,146.5 405.2,146.2 405.7,145.9 406.1,145.6 406.5,145.3 406.9,145.0 407.3,144.7 407.7,144.3 408.2,144.0 408.6,143.6 409.0,143.2 409.4,142.8 409.8,142.4 410.2,141.9 410.7,141.4 411.1,140.8 411.5,139.5 411.9,137.6 412.3,135.6 412.7,133.5 413.2,131.3 413.6,129.0 414.0,126.5 414.4,124.0 414.8,121.3 415.2,118.5 415.7,115.6 416.1,112.6 416.5,109.5 416.9,106.3 417.3,103.0 417.7,99.6 418.2,96.1 418.6,92.6 419.0,89.0 419.4,85.4 419.8,81.8 420.2,78.1 420.7,74.4 421.1,70.8 421.5,67.1 421.9,63.5 422.3,59.9 422.7,56.4 423.2,53.0 423.6,49.7 424.0,46.4 424.4,43.3 424.8,40.4 425.2,37.6 425.6,35.0 426.1,32.5 426.5,30.3 426.9,28.2 427.3,26.4 427.7,24.8 428.1,23.5 428.6,22.3 429.0,21.5 429.4,20.9 429.8,20.5 430.2,20.4 430.6,20.5 431.1,20.8 431.5,21.2 431.9,21.8 432.3,22.5 432.7,23.3 433.1,24.3 433.6,25.5 434.0,26.8 434.4,28.2 434.8,29.7 435.2,31.4 435.6,33.2 436.1,35.1 436.5,37.1 436.9,39.3 437.3,41.5 437.7,43.8 438.1,46.2 438.6,48.6 439.0,51.2 439.4,53.8 439.8,56.4 440.2,59.1 440.6,61.8 441.1,64.6 441.5,67.4 441.9,70.2 442.3,73.1 442.7,75.9 443.1,78.7 443.6,81.6 444.0,84.4 444.4,87.2 444.8,90.0 445.2,92.7 445.6,95.4 446.1,98.1 446.5,100.7 446.9,103.3 447.3,105.9 447.7,108.4 448.1,110.8 448.6,113.2 449.0,115.5 449.4,117.7 449.8,119.9 450.2,122.0 450.6,124.1 451.1,126.1 451.5,128.0 451.9,129.8" stroke="#006729" stroke-width="3.00" stroke-linecap="square"/>
<path d="M418.9,109.7 419.1,107.9 419.3,106.2 419.5,104.4 419.7,102.5 419.9,100.7 420.1,98.8 420.3,96.9 420.5,95.0 420.8,93.1 421.0,91.2 421.2,89.3 421.4,87.3 421.6,85.3 421.8,83.4 422.0,81.4 422.2,79.4 422.4,77.5 422.6,75.5 422.8,73.5 423.0,71.6 423.2,69.6 423.5,67.7 423.7,65.8 423.9,63.9 424.1,62.1 424.3,60.2 424.5,58.4 424.7,56.6 424.9,54.9 425.1,53.1 425.3,51.5 425.5,49.8 425.7,48.2 425.9,46.7 426.1,45.2 426.4,43.7 426.6,42.3 426.8,41.0 427.0,39.7 427.2,38.4 427.4,37.3 427.6,36.2 427.8,35.1 428.0,34.2 428.2,33.2 428.4,32.4 428.6,31.6 428.8,31.0 429.1,30.3 429.3,29.8 429.5,29.3 429.7,29.0 429.9,28.6 430.1,28.4 430.3,28.3 430.5,28.2 430.7,28.2 430.9,28.2 431.1,28.3 431.3,28.5 431.5,28.6 431.8,28.9 432.0,29.1 432.2,29.4 432.4,29.8 432.6,30.2 432.8,30.6 433.0,31.1 433.2,31.6 433.4,32.1 433.6,32.7 433.8,33.4 434.0,34.0 434.2,34.7 434.5,35.5 434.7,36.3 434.9,37.1 435.1,37.9 435.3,38.8 435.5,39.7 435.7,40.7 435.9,41.7 436.1,42.7 436.3,43.7 436.5,44.8 436.7,45.9 436.9,47.0 437.2,48.2 437.4,49.4 437.6,50.6 437.8,51.8 438.0,53.0 438.2,54.3 438.4,55.6 438.6,56.9 438.8,58.2 439.0,59.6 439.2,60.9 439.4,62.3 439.6,63.7 439.8,65.1 440.1,66.5 440.3,67.9 440.5,69.3 440.7,70.7 440.9,72.2 441.1,73.6 441.3,75.1 441.5,76.5 441.7,78.0 441.9,79.5 442.1,80.9 442.3,82.4 442.5,83.8 442.8,85.3 443.0,86.7 443.2,88.2 443.4,89.6 443.6,91.1 443.8,92.5 444.0,93.9 444.2,95.4 444.4,96.8 444.6,98.2 444.8,99.5 445.0,100.9 445.2,102.3 445.5,103.7 445.7,105.0 445.9,106.3 446.1,107.6 446.3,108.9 446.5,110.2 446.7,111.5 446.9,112.8 447.1,114.0 447.3,115.2 447.5,116.4 447.7,117.6 447.9,118.8 448.2,119.9 448.4,121.1 448.6,122.2 448.8,123.3 449.0,124.4 449.2,125.4 449.4,126.5 449.6,127.5 449.8,128.5 450.0,129.5 450.2,130.5 450.4,131.4 450.6,132.3 450.9,133.2 451.1,134.1 451.3,135.0 451.5,135.9 451.7,136.7 451.9,137.5" stroke="#00441b" stroke-width="3.00" stroke-linecap="square"/>
</g>
<path d="M265.00,13.00 H445.50 M265.00,169.00 H445.50 M265.00,13.00 V169.00 M445.50,13.00 V169.00" stroke="#000" stroke-width="0.75" fill="none" stroke-linecap="square"/>
<text x="285.20" y="182.10" font-size="9.30" text-anchor="middle" textLength="17.14" lengthAdjust="spacingAndGlyphs">0.00</text>
<text x="311.82" y="182.10" font-size="9.30" text-anchor="middle" textLength="17.14" lengthAdjust="spacingAndGlyphs">0.25</text>
<text x="338.43" y="182.10" font-size="9.30" text-anchor="middle" textLength="17.14" lengthAdjust="spacingAndGlyphs">0.50</text>
<text x="365.05" y="182.10" font-size="9.30" text-anchor="middle" textLength="17.14" lengthAdjust="spacingAndGlyphs">0.75</text>
<text x="391.67" y="182.10" font-size="9.30" text-anchor="middle" textLength="17.14" lengthAdjust="spacingAndGlyphs">1.00</text>
<text x="418.28" y="182.10" font-size="9.30" text-anchor="middle" textLength="17.14" lengthAdjust="spacingAndGlyphs">1.25</text>
<text x="444.90" y="182.10" font-size="9.30" text-anchor="middle" textLength="17.14" lengthAdjust="spacingAndGlyphs">1.50</text>
<text x="259.60" y="165.70" font-size="9.30" text-anchor="end" textLength="4.90" lengthAdjust="spacingAndGlyphs">0</text>
<text x="259.60" y="135.88" font-size="9.30" text-anchor="end" textLength="4.90" lengthAdjust="spacingAndGlyphs">1</text>
<text x="259.60" y="106.05" font-size="9.30" text-anchor="end" textLength="4.90" lengthAdjust="spacingAndGlyphs">2</text>
<text x="259.60" y="76.23" font-size="9.30" text-anchor="end" textLength="4.90" lengthAdjust="spacingAndGlyphs">3</text>
<text x="259.60" y="46.40" font-size="9.30" text-anchor="end" textLength="4.90" lengthAdjust="spacingAndGlyphs">4</text>
<path d="M285.80,169.00 V172.20 M312.42,169.00 V172.20 M339.03,169.00 V172.20 M365.65,169.00 V172.20 M392.27,169.00 V172.20 M418.88,169.00 V172.20 M445.50,169.00 V172.20 M261.80,161.50 H265.00 M261.80,131.68 H265.00 M261.80,101.85 H265.00 M261.80,72.03 H265.00 M261.80,42.20 H265.00" stroke="#000" stroke-width="0.75" fill="none"/>
<text x="354.55" y="8.60" font-size="10.80" text-anchor="middle" textLength="73.15" lengthAdjust="spacingAndGlyphs">primary_school</text>
<text x="0.00" y="0.00" font-size="9.30" text-anchor="middle" textLength="34.30" lengthAdjust="spacingAndGlyphs" transform="translate(248.70,92.30) rotate(-90)">Posterior</text>
<rect x="495.50" y="13.00" width="181.50" height="156.00" fill="#f4f4f4"/>
<g clip-path="url(#c2)" fill="none" stroke-linejoin="round">
<path d="M496.1,161.5 515.1,161.5 518.5,154.7 622.7,154.7" stroke="#000" stroke-width="1.6" stroke-dasharray="5.96,2.59" stroke-dashoffset="8.47"/>
<path d="M622.7,154.7 625.1,161.5 677.0,161.5" stroke="#000" stroke-width="1.6" stroke-dasharray="5.96,2.59" stroke-dashoffset="1.88"/>
<path d="M517.4,157.1 518.1,156.9 518.7,156.8 519.4,156.6 520.1,156.4 520.7,156.2 521.4,156.1 522.1,155.9 522.8,155.7 523.4,155.5 524.1,155.3 524.8,155.2 525.4,155.0 526.1,154.8 526.8,154.6 527.4,154.4 528.1,154.3 528.8,154.1 529.4,153.9 530.1,153.7 530.8,153.6 531.5,153.4 532.1,153.2 532.8,153.1 533.5,152.9 534.1,152.8 534.8,152.6 535.5,152.5 536.1,152.3 536.8,152.2 537.5,152.1 538.1,151.9 538.8,151.8 539.5,151.7 540.2,151.6 540.8,151.5 541.5,151.4 542.2,151.4 542.8,151.3 543.5,151.2 544.2,151.2 544.8,151.1 545.5,151.1 546.2,151.1 546.8,151.0 547.5,151.0 548.2,151.0 548.9,151.0 549.5,151.0 550.2,151.0 550.9,151.0 551.5,151.1 552.2,151.1 552.9,151.1 553.5,151.1 554.2,151.1 554.9,151.2 555.5,151.2 556.2,151.2 556.9,151.3 557.6,151.3 558.2,151.4 558.9,151.4 559.6,151.5 560.2,151.5 560.9,151.6 561.6,151.6 562.2,151.7 562.9,151.8 563.6,151.8 564.2,151.9 564.9,152.0 565.6,152.0 566.3,152.1 566.9,152.2 567.6,152.3 568.3,152.4 568.9,152.5 569.6,152.5 570.3,152.6 570.9,152.7 571.6,152.8 572.3,152.9 572.9,153.0 573.6,153.1 574.3,153.2 574.9,153.3 575.6,153.4 576.3,153.5 577.0,153.6 577.6,153.7 578.3,153.8 579.0,153.9 579.6,154.0 580.3,154.2 581.0,154.3 581.6,154.4 582.3,154.5 583.0,154.6 583.6,154.7 584.3,154.8 585.0,154.9 585.7,155.0 586.3,155.2 587.0,155.3 587.7,155.4 588.3,155.5 589.0,155.6 589.7,155.7 590.3,155.8 591.0,155.9 591.7,156.0 592.3,156.2 593.0,156.3 593.7,156.4 594.4,156.5 595.0,156.6 595.7,156.7 596.4,156.8 597.0,156.9 597.7,157.0 598.4,157.1 599.0,157.2 599.7,157.3 600.4,157.4 601.0,157.5 601.7,157.6 602.4,157.7 603.1,157.8 603.7,157.9 604.4,158.0 605.1,158.1 605.7,158.2 606.4,158.3 607.1,158.3 607.7,158.4 608.4,158.5 609.1,158.6 609.7,158.7 610.4,158.8 611.1,158.8 611.8,158.9 612.4,159.0 613.1,159.1 613.8,159.1 614.4,159.2 615.1,159.3 615.8,159.3 616.4,159.4 617.1,159.5 617.8,159.5 618.4,159.6 619.1,159.7 619.8,159.7 620.5,159.8 621.1,159.8 621.8,159.9 622.5,159.9 623.1,160.0 623.8,160.0" stroke="#a9dca3" stroke-width="3.00" stroke-linecap="square"/>
<path d="M569.5,157.1 569.9,156.9 570.3,156.7 570.6,156.5 571.0,156.4 571.4,156.2 571.7,156.0 572.1,155.8 572.5,155.6 572.8,155.3 573.2,155.1 573.6,154.9 574.0,154.7 574.3,154.5 574.7,154.2 575.1,154.0 575.4,153.8 575.8,153.5 576.2,153.3 576.5,153.0 576.9,152.8 577.3,152.5 577.6,152.3 578.0,152.0 578.4,151.8 578.7,151.5 579.1,151.3 579.5,151.0 579.8,150.7 580.2,150.5 580.6,150.2 580.9,150.0 581.3,149.7 581.7,149.4 582.0,149.2 582.4,148.9 582.8,148.7 583.2,148.4 583.5,148.2 583.9,147.9 584.3,147.7 584.6,147.4 585.0,147.2 585.4,146.9 585.7,146.7 586.1,146.5 586.5,146.3 586.8,146.1 587.2,145.8 587.6,145.6 587.9,145.4 588.3,145.3 588.7,145.1 589.0,144.9 589.4,144.7 589.8,144.6 590.1,144.4 590.5,144.2 590.9,144.1 591.3,144.0 591.6,143.9 592.0,143.7 592.4,143.6 592.7,143.5 593.1,143.5 593.5,143.4 593.8,143.3 594.2,143.3 594.6,143.2 594.9,143.2 595.3,143.1 595.7,143.1 596.0,143.1 596.4,143.1 596.8,143.1 597.1,143.2 597.5,143.2 597.9,143.2 598.2,143.3 598.6,143.4 599.0,143.4 599.3,143.5 599.7,143.6 600.1,143.7 600.5,143.8 600.8,144.0 601.2,144.1 601.6,144.2 601.9,144.4 602.3,144.6 602.7,144.7 603.0,144.9 603.4,145.1 603.8,145.3 604.1,145.5 604.5,145.7 604.9,145.9 605.2,146.1 605.6,146.4 606.0,146.6 606.3,146.8 606.7,147.1 607.1,147.3 607.4,147.6 607.8,147.8 608.2,148.1 608.5,148.3 608.9,148.6 609.3,148.8 609.7,149.1 610.0,149.4 610.4,149.6 610.8,149.9 611.1,150.2 611.5,150.5 611.9,150.7 612.2,151.0 612.6,151.3 613.0,151.5 613.3,151.8 613.7,152.1 614.1,152.3 614.4,152.6 614.8,152.8 615.2,153.1 615.5,153.3 615.9,153.6 616.3,153.8 616.6,154.1 617.0,154.3 617.4,154.6 617.8,154.8 618.1,155.0 618.5,155.2 618.9,155.5 619.2,155.7 619.6,155.9 620.0,156.1 620.3,156.3 620.7,156.5 621.1,156.7 621.4,156.9 621.8,157.1 622.2,157.2 622.5,157.4 622.9,157.6 623.3,157.8 623.6,157.9 624.0,158.1 624.4,158.2 624.7,158.4 625.1,158.5 625.5,158.6 625.8,158.8 626.2,158.9 626.6,159.0 627.0,159.1 627.3,159.2 627.7,159.4 628.1,159.5" stroke="#83cb82" stroke-width="3.00" stroke-linecap="square"/>
<path d="M574.5,135.3 574.8,134.8 575.2,134.3 575.5,133.9 575.8,133.5 576.1,133.1 576.4,132.7 576.7,132.4 577.0,132.1 577.3,131.8 577.6,131.6 577.9,131.4 578.3,131.2 578.6,131.1 578.9,131.0 579.2,131.0 579.5,131.0 579.8,131.1 580.1,131.2 580.4,131.4 580.7,131.6 581.0,131.9 581.4,132.3 581.7,132.7 582.0,133.1 582.3,133.6 582.6,134.1 582.9,134.7 583.2,135.3 583.5,135.9 583.8,136.6 584.1,137.2 584.5,137.9 584.8,138.6 585.1,139.4 585.4,140.1 585.7,140.8 586.0,141.5 586.3,142.2 586.6,143.0 586.9,143.7 587.2,144.4 587.5,145.1 587.9,145.7 588.2,146.4 588.5,147.0 588.8,147.6 589.1,148.2 589.4,148.8 589.7,149.4 590.0,149.9 590.3,150.5 590.6,151.0 591.0,151.5 591.3,151.9 591.6,152.4 591.9,152.8 592.2,153.2 592.5,153.6 592.8,154.0 593.1,154.4 593.4,154.7 593.7,155.1 594.1,155.4 594.4,155.7 594.7,155.9 595.0,156.2 595.3,156.5 595.6,156.7 595.9,156.9 596.2,157.2 596.5,157.4 596.8,157.6 597.2,157.8 597.5,157.9 597.8,158.1 598.1,158.3 598.4,158.4 598.7,158.6 599.0,158.7 599.3,158.8 599.6,159.0 599.9,159.1 600.3,159.2 600.6,159.3 600.9,159.4 601.2,159.5 601.5,159.6 601.8,159.7 602.1,159.8 602.4,159.8 602.7,159.9 603.0,160.0 603.4,160.1 603.7,160.1 604.0,160.2 604.3,160.2 604.6,160.3 604.9,160.3 605.2,160.4 605.5,160.4 605.8,160.5 606.1,160.5 606.4,160.6 606.8,160.6 607.1,160.7 607.4,160.7 607.7,160.7 608.0,160.8 608.3,160.8 608.6,160.8 608.9,160.8 609.2,160.9 609.5,160.9 609.9,160.9 610.2,160.9 610.5,161.0 610.8,161.0 611.1,161.0 611.4,161.0 611.7,161.0 612.0,161.1 612.3,161.1 612.6,161.1 613.0,161.1 613.3,161.1 613.6,161.1 613.9,161.1 614.2,161.2 614.5,161.2 614.8,161.2 615.1,161.2 615.4,161.2 615.7,161.2 616.1,161.2 616.4,161.2 616.7,161.2 617.0,161.3 617.3,161.3 617.6,161.3 617.9,161.3 618.2,161.3 618.5,161.3 618.8,161.3 619.2,161.3 619.5,161.3 619.8,161.3 620.1,161.3 620.4,161.3 620.7,161.3 621.0,161.3 621.3,161.3 621.6,161.4 621.9,161.4 622.3,161.4 622.6,161.4 622.9,161.4 623.2,161.4 623.5,161.4 623.8,161.4" stroke="#58b668" stroke-width="3.00" stroke-linecap="square"/>
<path d="M585.8,156.8 586.1,156.5 586.3,156.2 586.6,155.8 586.8,155.5 587.1,155.1 587.3,154.7 587.6,154.2 587.8,153.7 588.1,153.2 588.3,152.6 588.6,152.0 588.8,151.3 589.1,150.6 589.3,149.9 589.6,149.0 589.9,148.2 590.1,147.2 590.4,146.2 590.6,145.1 590.9,144.0 591.1,142.7 591.4,141.4 591.6,140.0 591.9,138.5 592.1,136.9 592.4,135.3 592.6,133.5 592.9,131.7 593.1,129.8 593.4,127.8 593.6,125.7 593.9,123.6 594.1,121.5 594.4,119.3 594.6,117.1 594.9,115.0 595.1,112.9 595.4,110.8 595.7,108.9 595.9,107.1 596.2,105.4 596.4,104.0 596.7,102.7 596.9,101.7 597.2,100.9 597.4,100.4 597.7,100.2 597.9,100.3 598.2,100.7 598.4,101.3 598.7,102.2 598.9,103.3 599.2,104.7 599.4,106.3 599.7,108.0 599.9,109.9 600.2,111.9 600.4,114.0 600.7,116.1 601.0,118.3 601.2,120.4 601.5,122.6 601.7,124.7 602.0,126.8 602.2,128.8 602.5,130.8 602.7,132.6 603.0,134.4 603.2,136.1 603.5,137.8 603.7,139.3 604.0,140.7 604.2,142.1 604.5,143.4 604.7,144.6 605.0,145.7 605.2,146.7 605.5,147.7 605.7,148.6 606.0,149.5 606.3,150.3 606.5,151.0 606.8,151.7 607.0,152.3 607.3,152.9 607.5,153.5 607.8,154.0 608.0,154.4 608.3,154.9 608.5,155.3 608.8,155.7 609.0,156.0 609.3,156.4 609.5,156.7 609.8,157.0 610.0,157.2 610.3,157.5 610.5,157.7 610.8,157.9 611.0,158.1 611.3,158.3 611.5,158.5 611.8,158.7 612.1,158.8 612.3,159.0 612.6,159.1 612.8,159.2 613.1,159.3 613.3,159.5 613.6,159.6 613.8,159.7 614.1,159.7 614.3,159.8 614.6,159.9 614.8,160.0 615.1,160.1 615.3,160.1 615.6,160.2 615.8,160.3 616.1,160.3 616.3,160.4 616.6,160.4 616.8,160.5 617.1,160.5 617.4,160.6 617.6,160.6 617.9,160.6 618.1,160.7 618.4,160.7 618.6,160.7 618.9,160.8 619.1,160.8 619.4,160.8 619.6,160.9 619.9,160.9 620.1,160.9 620.4,160.9 620.6,161.0 620.9,161.0 621.1,161.0 621.4,161.0 621.6,161.0 621.9,161.1 622.1,161.1 622.4,161.1 622.6,161.1 622.9,161.1 623.2,161.1 623.4,161.1 623.7,161.2 623.9,161.2 624.2,161.2 624.4,161.2 624.7,161.2 624.9,161.2 625.2,161.2 625.4,161.2 625.7,161.2 625.9,161.2" stroke="#359e53" stroke-width="3.00" stroke-linecap="square"/>
<path d="M588.2,161.2 588.3,161.2 588.4,161.1 588.5,161.0 588.7,160.9 588.8,160.8 588.9,160.7 589.1,160.6 589.2,160.5 589.3,160.3 589.5,160.1 589.6,159.9 589.7,159.7 589.9,159.4 590.0,159.1 590.1,158.8 590.2,158.4 590.4,158.0 590.5,157.5 590.6,157.0 590.8,156.4 590.9,155.7 591.0,155.0 591.2,154.3 591.3,153.4 591.4,152.5 591.5,151.5 591.7,150.4 591.8,149.3 591.9,148.0 592.1,146.6 592.2,145.2 592.3,143.6 592.5,142.0 592.6,140.2 592.7,138.4 592.9,136.4 593.0,134.3 593.1,132.2 593.2,129.9 593.4,127.6 593.5,125.1 593.6,122.6 593.8,120.0 593.9,117.4 594.0,114.7 594.2,111.9 594.3,109.1 594.4,106.3 594.6,103.5 594.7,100.6 594.8,97.8 594.9,95.0 595.1,92.3 595.2,89.6 595.3,87.0 595.5,84.5 595.6,82.0 595.7,79.8 595.9,77.6 596.0,75.6 596.1,73.8 596.2,72.1 596.4,70.6 596.5,69.3 596.6,68.3 596.8,67.4 596.9,66.8 597.0,66.4 597.2,66.2 597.3,66.2 597.4,66.4 597.6,66.7 597.7,67.2 597.8,67.9 597.9,68.7 598.1,69.7 598.2,70.8 598.3,72.0 598.5,73.4 598.6,74.8 598.7,76.5 598.9,78.2 599.0,80.0 599.1,81.9 599.2,83.9 599.4,86.0 599.5,88.1 599.6,90.3 599.8,92.5 599.9,94.8 600.0,97.2 600.2,99.5 600.3,101.9 600.4,104.2 600.6,106.6 600.7,108.9 600.8,111.3 600.9,113.6 601.1,115.9 601.2,118.1 601.3,120.3 601.5,122.5 601.6,124.6 601.7,126.6 601.9,128.6 602.0,130.5 602.1,132.4 602.2,134.2 602.4,135.9 602.5,137.6 602.6,139.2 602.8,140.7 602.9,142.2 603.0,143.5 603.2,144.8 603.3,146.1 603.4,147.2 603.6,148.4 603.7,149.4 603.8,150.4 603.9,151.3 604.1,152.1 604.2,152.9 604.3,153.7 604.5,154.4 604.6,155.0 604.7,155.6 604.9,156.1 605.0,156.6 605.1,157.1 605.3,157.5 605.4,157.9 605.5,158.3 605.6,158.6 605.8,158.9 605.9,159.2 606.0,159.4 606.2,159.7 606.3,159.9 606.4,160.0 606.6,160.2 606.7,160.3 606.8,160.5 606.9,160.6 607.1,160.7 607.2,160.8 607.3,160.9 607.5,161.0 607.6,161.0 607.7,161.1 607.9,161.1 608.0,161.2 608.1,161.2 608.3,161.3 608.4,161.3 608.5,161.3 608.6,161.3 608.8,161.4 608.9,161.4" stroke="#19833e" stroke-width="3.00" stroke-linecap="square"/>
<path d="M587.6,161.5 587.8,161.5 587.9,161.5 588.0,161.5 588.2,161.5 588.3,161.5 588.4,161.5 588.6,161.4 588.7,161.4 588.8,161.4 589.0,161.4 589.1,161.4 589.2,161.3 589.4,161.3 589.5,161.3 589.6,161.2 589.8,161.1 589.9,161.0 590.0,161.0 590.2,160.8 590.3,160.7 590.4,160.5 590.6,160.4 590.7,160.1 590.8,159.9 591.0,159.6 591.1,159.2 591.2,158.8 591.4,158.4 591.5,157.8 591.6,157.2 591.8,156.5 591.9,155.8 592.0,154.9 592.2,153.9 592.3,152.8 592.4,151.5 592.6,150.1 592.7,148.6 592.8,146.9 593.0,145.0 593.1,143.0 593.2,140.7 593.4,138.3 593.5,135.7 593.6,132.9 593.8,129.8 593.9,126.6 594.0,123.1 594.2,119.5 594.3,115.6 594.4,111.6 594.6,107.4 594.7,103.0 594.9,98.5 595.0,93.8 595.1,89.0 595.3,84.2 595.4,79.3 595.5,74.3 595.7,69.4 595.8,64.5 595.9,59.7 596.1,55.0 596.2,50.4 596.3,46.1 596.5,41.9 596.6,38.0 596.7,34.4 596.9,31.1 597.0,28.2 597.1,25.6 597.3,23.4 597.4,21.7 597.5,20.4 597.7,19.6 597.8,19.2 597.9,19.3 598.1,19.8 598.2,20.8 598.3,22.3 598.5,24.2 598.6,26.5 598.7,29.2 598.9,32.3 599.0,35.7 599.1,39.4 599.3,43.4 599.4,47.6 599.5,52.1 599.7,56.7 599.8,61.4 599.9,66.3 600.1,71.2 600.2,76.1 600.3,81.0 600.5,85.9 600.6,90.8 600.7,95.5 600.9,100.1 601.0,104.6 601.1,108.9 601.3,113.1 601.4,117.0 601.5,120.8 601.7,124.4 601.8,127.8 601.9,130.9 602.1,133.9 602.2,136.7 602.3,139.2 602.5,141.6 602.6,143.7 602.7,145.7 602.9,147.5 603.0,149.2 603.1,150.6 603.3,152.0 603.4,153.2 603.6,154.3 603.7,155.2 603.8,156.1 604.0,156.8 604.1,157.5 604.2,158.0 604.4,158.5 604.5,159.0 604.6,159.4 604.8,159.7 604.9,160.0 605.0,160.2 605.2,160.4 605.3,160.6 605.4,160.8 605.6,160.9 605.7,161.0 605.8,161.1 606.0,161.2 606.1,161.2 606.2,161.3 606.4,161.3 606.5,161.3 606.6,161.4 606.8,161.4 606.9,161.4 607.0,161.4 607.2,161.4 607.3,161.5 607.4,161.5 607.6,161.5 607.7,161.5 607.8,161.5 608.0,161.5 608.1,161.5 608.2,161.5 608.4,161.5 608.5,161.5 608.6,161.5 608.8,161.5 608.9,161.5" stroke="#006729" stroke-width="3.00" stroke-linecap="square"/>
<path d="M587.6,160.0 587.8,159.8 587.9,159.6 588.0,159.4 588.2,159.1 588.3,158.8 588.4,158.5 588.6,158.2 588.7,157.8 588.8,157.4 589.0,157.0 589.1,156.5 589.2,156.0 589.4,155.4 589.5,154.8 589.6,154.1 589.8,153.4 589.9,152.7 590.0,151.8 590.2,151.0 590.3,150.0 590.4,149.1 590.6,148.0 590.7,146.9 590.8,145.7 591.0,144.5 591.1,143.2 591.2,141.8 591.4,140.4 591.5,138.9 591.6,137.3 591.8,135.7 591.9,134.0 592.0,132.2 592.2,130.4 592.3,128.5 592.4,126.6 592.6,124.7 592.7,122.7 592.8,120.6 593.0,118.6 593.1,116.5 593.2,114.4 593.4,112.2 593.5,110.1 593.6,108.0 593.8,105.9 593.9,103.8 594.0,101.7 594.2,99.7 594.3,97.7 594.4,95.7 594.6,93.8 594.7,92.0 594.9,90.3 595.0,88.6 595.1,87.0 595.3,85.6 595.4,84.2 595.5,83.0 595.7,81.9 595.8,80.9 595.9,80.0 596.1,79.3 596.2,78.7 596.3,78.2 596.5,77.9 596.6,77.8 596.7,77.8 596.9,77.9 597.0,78.2 597.1,78.6 597.3,79.2 597.4,79.9 597.5,80.7 597.7,81.7 597.8,82.8 597.9,84.0 598.1,85.4 598.2,86.8 598.3,88.4 598.5,90.0 598.6,91.7 598.7,93.5 598.9,95.4 599.0,97.4 599.1,99.3 599.3,101.4 599.4,103.5 599.5,105.5 599.7,107.7 599.8,109.8 599.9,111.9 600.1,114.0 600.2,116.2 600.3,118.3 600.5,120.3 600.6,122.4 600.7,124.4 600.9,126.3 601.0,128.3 601.1,130.1 601.3,131.9 601.4,133.7 601.5,135.4 601.7,137.0 601.8,138.6 601.9,140.1 602.1,141.6 602.2,143.0 602.3,144.3 602.5,145.5 602.6,146.7 602.7,147.8 602.9,148.9 603.0,149.9 603.1,150.8 603.3,151.7 603.4,152.5 603.6,153.3 603.7,154.0 603.8,154.7 604.0,155.3 604.1,155.9 604.2,156.4 604.4,156.9 604.5,157.3 604.6,157.7 604.8,158.1 604.9,158.5 605.0,158.8 605.2,159.1 605.3,159.3 605.4,159.6 605.6,159.8 605.7,160.0 605.8,160.1 606.0,160.3 606.1,160.4 606.2,160.6 606.4,160.7 606.5,160.8 606.6,160.9 606.8,160.9 606.9,161.0 607.0,161.1 607.2,161.1 607.3,161.2 607.4,161.2 607.6,161.3 607.7,161.3 607.8,161.3 608.0,161.3 608.1,161.4 608.2,161.4 608.4,161.4 608.5,161.4 608.6,161.4 608.8,161.4 608.9,161.4" stroke="#00441b" stroke-width="3.00" stroke-linecap="square"/>
</g>
<path d="M495.50,13.00 H677.00 M495.50,169.00 H677.00 M495.50,13.00 V169.00 M677.00,13.00 V169.00" stroke="#000" stroke-width="0.75" fill="none" stroke-linecap="square"/>
<text x="516.80" y="182.10" font-size="9.30" text-anchor="middle" textLength="17.14" lengthAdjust="spacingAndGlyphs">0.00</text>
<text x="543.40" y="182.10" font-size="9.30" text-anchor="middle" textLength="17.14" lengthAdjust="spacingAndGlyphs">0.25</text>
<text x="570.00" y="182.10" font-size="9.30" text-anchor="middle" textLength="17.14" lengthAdjust="spacingAndGlyphs">0.50</text>
<text x="596.60" y="182.10" font-size="9.30" text-anchor="middle" textLength="17.14" lengthAdjust="spacingAndGlyphs">0.75</text>
<text x="623.20" y="182.10" font-size="9.30" text-anchor="middle" textLength="17.14" lengthAdjust="spacingAndGlyphs">1.00</text>
<text x="649.80" y="182.10" font-size="9.30" text-anchor="middle" textLength="17.14" lengthAdjust="spacingAndGlyphs">1.25</text>
<text x="676.40" y="182.10" font-size="9.30" text-anchor="middle" textLength="17.14" lengthAdjust="spacingAndGlyphs">1.50</text>
<text x="490.10" y="165.70" font-size="9.30" text-anchor="end" textLength="4.90" lengthAdjust="spacingAndGlyphs">0</text>
<text x="490.10" y="131.65" font-size="9.30" text-anchor="end" textLength="4.90" lengthAdjust="spacingAndGlyphs">5</text>
<text x="490.10" y="97.60" font-size="9.30" text-anchor="end" textLength="9.80" lengthAdjust="spacingAndGlyphs">10</text>
<text x="490.10" y="63.55" font-size="9.30" text-anchor="end" textLength="9.80" lengthAdjust="spacingAndGlyphs">15</text>
<text x="490.10" y="29.50" font-size="9.30" text-anchor="end" textLength="9.80" lengthAdjust="spacingAndGlyphs">20</text>
<path d="M517.40,169.00 V172.20 M544.00,169.00 V172.20 M570.60,169.00 V172.20 M597.20,169.00 V172.20 M623.80,169.00 V172.20 M650.40,169.00 V172.20 M677.00,169.00 V172.20 M492.30,161.50 H495.50 M492.30,127.45 H495.50 M492.30,93.40 H495.50 M492.30,59.35 H495.50 M492.30,25.30 H495.50" stroke="#000" stroke-width="0.75" fill="none"/>
<text x="585.55" y="8.60" font-size="10.80" text-anchor="middle" textLength="85.33" lengthAdjust="spacingAndGlyphs">secondary_school</text>
<text x="0.00" y="0.00" font-size="9.30" text-anchor="middle" textLength="34.30" lengthAdjust="spacingAndGlyphs" transform="translate(475.40,92.30) rotate(-90)">Posterior</text>
<rect x="33.50" y="204.50" width="181.00" height="155.50" fill="#f4f4f4"/>
<g clip-path="url(#c3)" fill="none" stroke-linejoin="round">
<path d="M34.2,353.2 34.6,353.2 35.1,353.2 35.5,353.2 36.0,353.2 36.4,353.2 36.9,353.2 37.4,353.2 37.8,353.2 38.3,353.2 38.7,353.2 39.2,353.2 39.6,353.2 40.1,353.2 40.5,353.2 41.0,353.2 41.4,353.2 41.9,353.2 42.3,353.2 42.8,353.2 43.2,353.2 43.7,353.2 44.1,353.2 44.6,353.2 45.0,353.2 45.5,353.2 45.9,353.2 46.4,353.2 46.8,353.2 47.3,353.2 47.7,353.2 48.2,353.2 48.6,353.2 49.1,353.2 49.6,353.2 50.0,353.2 50.5,353.2 50.9,353.2 51.4,353.2 51.8,353.2 52.3,353.2 52.7,353.2 53.2,353.2 53.6,352.4 54.1,351.3 54.5,350.2 55.0,349.1 55.4,348.1 55.9,347.0 56.3,345.9 56.8,346.0 57.2,346.6 57.7,347.2 58.1,347.6 58.6,348.1 59.0,348.5 59.5,348.9 59.9,349.2 60.4,349.6 60.8,349.9 61.3,350.1 61.8,350.4 62.2,350.6 62.7,350.8 63.1,351.0 63.6,351.2 64.0,351.4 64.5,351.5 64.9,351.6 65.4,351.8 65.8,351.9 66.3,351.9 66.7,351.9 67.2,352.0 67.6,352.0 68.1,352.0 68.5,352.0 69.0,352.0 69.4,352.0 69.9,352.0 70.3,352.0 70.8,352.0 71.2,352.0 71.7,352.0 72.1,352.0 72.6,352.0 73.1,352.1 73.5,352.1 74.0,352.1 74.4,352.1 74.9,352.1 75.3,352.1 75.8,352.1 76.2,352.1 76.7,352.1 77.1,352.1 77.6,352.1 78.0,352.1 78.5,352.1 78.9,352.1 79.4,352.2 79.8,352.2 80.3,352.2 80.7,352.2 81.2,352.2 81.6,352.2 82.1,352.2 82.5,352.2 83.0,352.2 83.4,352.2 83.9,352.2 84.3,352.2 84.8,352.2 85.3,352.2 85.7,352.2 86.2,352.2 86.6,352.3 87.1,352.3 87.5,352.3 88.0,352.3 88.4,352.3 88.9,352.3 89.3,352.3 89.8,352.3 90.2,352.3 90.7,352.3 91.1,352.3 91.6,352.3 92.0,352.3 92.5,352.3 92.9,352.3 93.4,352.3 93.8,352.3 94.3,352.4 94.7,352.4 95.2,352.4 95.6,352.4 96.1,352.4 96.6,352.4 97.0,352.4 97.5,352.4 97.9,352.4 98.4,352.4 98.8,352.4 99.3,352.4 99.7,352.4 100.2,352.4 100.6,352.4 101.1,352.4 101.5,352.4 102.0,352.4 102.4,352.4 102.9,352.4 103.3,352.5 103.8,352.5 104.2,352.5 104.7,352.5 105.1,352.5 105.6,352.5 106.0,352.5 106.5,352.5 106.9,352.5 107.4,352.5 107.8,352.5 108.3,352.5 108.8,352.5 109.2,352.5 109.7,352.5 110.1,352.5 110.6,352.5 111.0,352.5 111.5,352.5 111.9,352.5 112.4,352.5 112.8,352.5 113.3,352.6 113.7,352.6 114.2,352.6 114.6,352.6 115.1,352.6 115.5,352.6 116.0,352.6 116.4,352.6 116.9,352.6 117.3,352.6 117.8,352.6 118.2,352.6 118.7,352.6 119.1,352.6 119.6,352.6 120.1,352.6 120.5,352.6 121.0,352.6 121.4,352.6 121.9,352.6 122.3,352.6 122.8,352.6 123.2,352.6 123.7,352.6 124.1,352.6 124.6,352.6 125.0,352.6 125.5,352.7 125.9,352.7 126.4,352.7 126.8,352.7 127.3,352.7 127.7,352.7 128.2,352.7 128.6,352.7 129.1,352.7 129.5,352.7 130.0,352.7 130.4,352.7 130.9,352.7 131.3,352.7 131.8,352.7 132.3,352.7 132.7,352.7 133.2,352.7 133.6,352.7 134.1,352.7 134.5,352.7 135.0,352.7 135.4,352.7 135.9,352.7 136.3,352.7 136.8,352.7 137.2,352.7 137.7,352.7 138.1,352.7 138.6,352.7 139.0,352.7 139.5,352.8 139.9,352.8 140.4,352.8 140.8,352.8 141.3,352.8 141.7,352.8 142.2,352.8 142.6,352.8 143.1,352.8 143.5,352.8 144.0,352.8 144.5,352.8 144.9,352.8 145.4,352.8 145.8,352.8 146.3,352.8 146.7,352.8 147.2,352.8 147.6,352.8 148.1,352.8 148.5,352.8 149.0,352.8 149.4,352.8 149.9,352.8 150.3,352.8 150.8,352.8 151.2,352.8 151.7,352.8 152.1,352.8 152.6,352.8 153.0,352.8 153.5,352.8 153.9,352.8 154.4,352.8 154.8,352.8 155.3,352.8 155.8,352.8 156.2,352.8 156.7,352.8 157.1,352.9 157.6,352.9 158.0,352.9 158.5,352.9 158.9,352.9 159.4,352.9 159.8,352.9 160.3,352.9 160.7,352.9 161.2,352.9 161.6,352.9 162.1,352.9 162.5,352.9 163.0,352.9 163.4,352.9 163.9,352.9 164.3,352.9 164.8,352.9 165.2,352.9 165.7,352.9 166.1,352.9 166.6,352.9 167.0,352.9 167.5,352.9 168.0,352.9 168.4,352.9 168.9,352.9 169.3,352.9 169.8,352.9 170.2,352.9 170.7,352.9 171.1,352.9 171.6,352.9 172.0,352.9 172.5,352.9 172.9,352.9 173.4,352.9 173.8,352.9 174.3,352.9 174.7,352.9 175.2,352.9 175.6,352.9 176.1,352.9 176.5,352.9 177.0,352.9 177.4,352.9 177.9,352.9 178.3,352.9 178.8,352.9 179.3,352.9 179.7,352.9 180.2,352.9 180.6,352.9 181.1,353.0 181.5,353.0 182.0,353.0 182.4,353.0 182.9,353.0 183.3,353.0 183.8,353.0 184.2,353.0 184.7,353.0 185.1,353.0 185.6,353.0 186.0,353.0 186.5,353.0 186.9,353.0 187.4,353.0 187.8,353.0 188.3,353.0 188.7,353.0 189.2,353.0 189.6,353.0 190.1,353.0 190.5,353.0 191.0,353.0 191.5,353.0 191.9,353.0 192.4,353.0 192.8,353.0 193.3,353.0 193.7,353.0 194.2,353.0 194.6,353.0 195.1,353.0 195.5,353.0 196.0,353.0 196.4,353.0 196.9,353.0 197.3,353.0 197.8,353.0 198.2,353.0 198.7,353.0 199.1,353.0 199.6,353.0 200.0,353.0 200.5,353.0 200.9,353.0 201.4,353.0 201.8,353.0 202.3,353.0 202.8,353.0 203.2,353.0 203.7,353.0 204.1,353.0 204.6,353.0 205.0,353.0 205.5,353.0 205.9,353.0 206.4,353.0 206.8,353.0 207.3,353.0 207.7,353.0 208.2,353.0 208.6,353.0 209.1,353.0 209.5,353.0 210.0,353.0 210.4,353.0 210.9,353.0 211.3,353.0 211.8,353.0 212.2,353.0 212.7,353.0 213.1,353.0 213.6,353.0 214.0,353.0 214.5,353.0" stroke="#000" stroke-width="1.6" stroke-dasharray="5.96,2.59" stroke-dashoffset="5.74"/>
<path d="M54.8,332.9 54.8,332.3 54.9,331.7 54.9,331.1 55.0,330.6 55.1,330.1 55.1,329.6 55.2,329.2 55.2,328.9 55.3,328.5 55.4,328.3 55.4,328.1 55.5,328.0 55.6,327.9 55.6,327.8 55.7,327.8 55.7,327.9 55.8,327.9 55.9,327.9 55.9,328.0 56.0,328.0 56.0,328.1 56.1,328.1 56.2,328.2 56.2,328.3 56.3,328.4 56.3,328.5 56.4,328.6 56.5,328.7 56.5,328.9 56.6,329.0 56.6,329.1 56.7,329.3 56.8,329.5 56.8,329.6 56.9,329.8 56.9,330.0 57.0,330.2 57.1,330.4 57.1,330.6 57.2,330.8 57.3,331.0 57.3,331.2 57.4,331.4 57.4,331.7 57.5,331.9 57.6,332.2 57.6,332.4 57.7,332.7 57.7,332.9 57.8,333.2 57.9,333.4 57.9,333.7 58.0,334.0 58.0,334.3 58.1,334.5 58.2,334.8 58.2,335.1 58.3,335.4 58.3,335.7 58.4,336.0 58.5,336.2 58.5,336.5 58.6,336.8 58.6,337.1 58.7,337.4 58.8,337.7 58.8,338.0 58.9,338.3 59.0,338.6 59.0,338.9 59.1,339.2 59.1,339.5 59.2,339.7 59.3,340.0 59.3,340.3 59.4,340.6 59.4,340.9 59.5,341.2 59.6,341.5 59.6,341.7 59.7,342.0 59.7,342.3 59.8,342.5 59.9,342.8 59.9,343.1 60.0,343.3 60.0,343.6 60.1,343.8 60.2,344.1 60.2,344.3 60.3,344.6 60.3,344.8 60.4,345.1 60.5,345.3 60.5,345.5 60.6,345.7 60.7,346.0 60.7,346.2 60.8,346.4 60.8,346.6 60.9,346.8 61.0,347.0 61.0,347.2 61.1,347.4 61.1,347.6 61.2,347.8 61.3,347.9 61.3,348.1 61.4,348.3 61.4,348.5 61.5,348.6 61.6,348.8 61.6,348.9 61.7,349.1 61.7,349.2 61.8,349.4 61.9,349.5 61.9,349.7 62.0,349.8 62.0,349.9 62.1,350.0 62.2,350.2 62.2,350.3 62.3,350.4 62.4,350.5 62.4,350.6 62.5,350.7 62.5,350.8 62.6,350.9 62.7,351.0 62.7,351.1 62.8,351.2 62.8,351.3 62.9,351.4 63.0,351.4 63.0,351.5 63.1,351.6 63.1,351.7 63.2,351.7 63.3,351.8 63.3,351.9 63.4,351.9 63.4,352.0 63.5,352.0 63.6,352.1 63.7,352.2 63.8,352.3 63.9,352.3 63.9,352.4 64.0,352.4 64.1,352.4 64.1,352.5 64.2,352.5 64.2,352.6 64.3,352.6 64.4,352.6" stroke="#a9dca3" stroke-width="3.00" stroke-linecap="square"/>
<path d="M57.5,350.7 57.6,350.5 57.6,350.2 57.7,350.0 57.7,349.7 57.7,349.4 57.8,349.1 57.8,348.8 57.9,348.4 57.9,348.1 58.0,347.7 58.0,347.2 58.0,346.8 58.1,346.3 58.1,345.8 58.2,345.3 58.2,344.8 58.3,344.2 58.3,343.6 58.3,342.9 58.4,342.3 58.4,341.6 58.5,340.9 58.5,340.1 58.6,339.3 58.6,338.5 58.6,337.7 58.7,336.8 58.7,335.9 58.8,335.0 58.8,334.1 58.9,333.1 58.9,332.1 59.0,331.1 59.0,330.0 59.0,328.9 59.1,327.8 59.1,326.7 59.2,325.6 59.2,324.5 59.3,323.3 59.3,322.2 59.3,321.0 59.4,319.8 59.4,318.6 59.5,317.4 59.5,316.3 59.6,315.1 59.6,313.9 59.6,312.8 59.7,311.7 59.7,310.5 59.8,309.4 59.8,308.4 59.9,307.3 59.9,306.3 59.9,305.3 60.0,304.4 60.0,303.5 60.1,302.6 60.1,301.8 60.2,301.0 60.2,300.3 60.3,299.6 60.3,299.0 60.3,298.4 60.4,297.9 60.4,297.5 60.5,297.1 60.5,296.8 60.6,296.5 60.6,296.3 60.6,296.2 60.7,296.1 60.7,296.2 60.8,296.2 60.8,296.4 60.9,296.6 60.9,296.8 60.9,297.2 61.0,297.6 61.0,298.0 61.1,298.5 61.1,299.1 61.2,299.8 61.2,300.4 61.3,301.2 61.3,302.0 61.3,302.8 61.4,303.7 61.4,304.6 61.5,305.5 61.5,306.5 61.6,307.6 61.6,308.6 61.6,309.7 61.7,310.8 61.7,311.9 61.8,313.1 61.8,314.2 61.9,315.4 61.9,316.5 61.9,317.7 62.0,318.9 62.0,320.1 62.1,321.3 62.1,322.4 62.2,323.6 62.2,324.7 62.2,325.9 62.3,327.0 62.3,328.1 62.4,329.2 62.4,330.2 62.5,331.3 62.5,332.3 62.6,333.3 62.6,334.3 62.6,335.2 62.7,336.1 62.7,337.0 62.8,337.9 62.8,338.7 62.9,339.5 62.9,340.3 62.9,341.0 63.0,341.8 63.0,342.4 63.1,343.1 63.1,343.7 63.2,344.3 63.2,344.9 63.2,345.4 63.3,345.9 63.3,346.4 63.4,346.9 63.4,347.3 63.5,347.7 63.5,348.1 63.5,348.5 63.6,348.9 63.6,349.2 63.7,349.5 63.7,349.8 63.8,350.0 63.8,350.3 63.9,350.5 63.9,350.7 63.9,350.9 64.0,351.1 64.0,351.3 64.1,351.5 64.1,351.6 64.2,351.8 64.2,351.9 64.2,352.0 64.3,352.1 64.3,352.2 64.4,352.3 64.4,352.4" stroke="#83cb82" stroke-width="3.00" stroke-linecap="square"/>
<path d="M58.1,351.3 58.1,351.1 58.1,350.9 58.2,350.6 58.2,350.4 58.2,350.1 58.3,349.7 58.3,349.4 58.3,349.0 58.4,348.6 58.4,348.1 58.5,347.7 58.5,347.1 58.5,346.6 58.6,346.0 58.6,345.3 58.6,344.6 58.7,343.9 58.7,343.1 58.7,342.3 58.8,341.4 58.8,340.5 58.9,339.5 58.9,338.4 58.9,337.3 59.0,336.2 59.0,334.9 59.0,333.7 59.1,332.3 59.1,330.9 59.2,329.5 59.2,328.0 59.2,326.4 59.3,324.8 59.3,323.1 59.3,321.4 59.4,319.6 59.4,317.8 59.4,315.9 59.5,314.0 59.5,312.1 59.6,310.1 59.6,308.1 59.6,306.1 59.7,304.0 59.7,302.0 59.7,299.9 59.8,297.8 59.8,295.8 59.8,293.7 59.9,291.7 59.9,289.7 60.0,287.7 60.0,285.7 60.0,283.8 60.1,282.0 60.1,280.2 60.1,278.5 60.2,276.8 60.2,275.3 60.3,273.8 60.3,272.4 60.3,271.1 60.4,269.9 60.4,268.8 60.4,267.8 60.5,267.0 60.5,266.2 60.5,265.6 60.6,265.1 60.6,264.8 60.7,264.5 60.7,264.4 60.7,264.5 60.8,264.6 60.8,264.9 60.8,265.3 60.9,265.9 60.9,266.6 61.0,267.4 61.0,268.3 61.0,269.3 61.1,270.4 61.1,271.7 61.1,273.0 61.2,274.4 61.2,276.0 61.2,277.6 61.3,279.3 61.3,281.0 61.4,282.8 61.4,284.7 61.4,286.6 61.5,288.6 61.5,290.6 61.5,292.6 61.6,294.6 61.6,296.7 61.6,298.8 61.7,300.8 61.7,302.9 61.8,305.0 61.8,307.0 61.8,309.0 61.9,311.0 61.9,313.0 61.9,314.9 62.0,316.8 62.0,318.6 62.1,320.4 62.1,322.2 62.1,323.9 62.2,325.5 62.2,327.1 62.2,328.7 62.3,330.2 62.3,331.6 62.3,332.9 62.4,334.3 62.4,335.5 62.5,336.7 62.5,337.8 62.5,338.9 62.6,339.9 62.6,340.9 62.6,341.8 62.7,342.7 62.7,343.5 62.7,344.2 62.8,345.0 62.8,345.6 62.9,346.3 62.9,346.8 62.9,347.4 63.0,347.9 63.0,348.3 63.0,348.8 63.1,349.2 63.1,349.5 63.2,349.9 63.2,350.2 63.2,350.5 63.3,350.8 63.3,351.0 63.3,351.2 63.4,351.4 63.4,351.6 63.4,351.8 63.5,351.9 63.5,352.1 63.6,352.2 63.6,352.3 63.6,352.4 63.7,352.5 63.7,352.6 63.8,352.7 63.8,352.8 63.9,352.9" stroke="#58b668" stroke-width="3.00" stroke-linecap="square"/>
<path d="M58.6,352.4 58.6,352.3 58.6,352.2 58.7,352.1 58.7,352.0 58.7,351.8 58.8,351.6 58.8,351.5 58.8,351.2 58.9,351.0 58.9,350.8 58.9,350.5 59.0,350.2 59.0,349.9 59.0,349.5 59.1,349.1 59.1,348.7 59.1,348.2 59.2,347.7 59.2,347.2 59.2,346.6 59.3,346.0 59.3,345.3 59.3,344.6 59.4,343.8 59.4,343.0 59.4,342.1 59.5,341.1 59.5,340.1 59.5,339.1 59.6,337.9 59.6,336.7 59.6,335.5 59.7,334.1 59.7,332.7 59.7,331.2 59.8,329.7 59.8,328.1 59.8,326.4 59.9,324.6 59.9,322.8 59.9,320.9 60.0,319.0 60.0,317.0 60.0,314.9 60.1,312.8 60.1,310.6 60.1,308.3 60.2,306.1 60.2,303.8 60.2,301.4 60.3,299.0 60.3,296.6 60.3,294.2 60.4,291.8 60.4,289.4 60.4,287.0 60.5,284.6 60.5,282.2 60.5,279.9 60.6,277.6 60.6,275.3 60.6,273.1 60.7,271.0 60.7,268.9 60.8,267.0 60.8,265.1 60.8,263.3 60.9,261.6 60.9,260.0 60.9,258.6 61.0,257.3 61.0,256.1 61.0,255.0 61.1,254.1 61.1,253.3 61.1,252.7 61.2,252.2 61.2,251.9 61.2,251.8 61.3,251.8 61.3,251.9 61.3,252.2 61.4,252.7 61.4,253.3 61.4,254.1 61.5,255.0 61.5,256.1 61.5,257.3 61.6,258.6 61.6,260.0 61.6,261.6 61.7,263.3 61.7,265.1 61.7,267.0 61.8,268.9 61.8,271.0 61.8,273.1 61.9,275.3 61.9,277.6 61.9,279.9 62.0,282.2 62.0,284.6 62.0,287.0 62.1,289.4 62.1,291.8 62.1,294.2 62.2,296.6 62.2,299.0 62.2,301.4 62.3,303.8 62.3,306.1 62.3,308.3 62.4,310.6 62.4,312.8 62.4,314.9 62.5,317.0 62.5,319.0 62.5,320.9 62.6,322.8 62.6,324.6 62.6,326.4 62.7,328.1 62.7,329.7 62.7,331.2 62.8,332.7 62.8,334.1 62.8,335.5 62.9,336.7 62.9,337.9 62.9,339.1 63.0,340.1 63.0,341.1 63.0,342.1 63.1,343.0 63.1,343.8 63.1,344.6 63.2,345.3 63.2,346.0 63.2,346.6 63.3,347.2 63.3,347.7 63.3,348.2 63.4,348.7 63.4,349.1 63.4,349.5 63.5,349.9 63.5,350.2 63.5,350.5 63.6,350.8 63.6,351.0 63.6,351.2 63.7,351.5 63.7,351.6 63.7,351.8 63.8,352.0 63.8,352.1 63.8,352.2 63.9,352.3 63.9,352.4" stroke="#359e53" stroke-width="3.00" stroke-linecap="square"/>
<path d="M58.6,351.2 58.6,350.9 58.6,350.6 58.7,350.3 58.7,350.0 58.7,349.7 58.8,349.3 58.8,348.8 58.8,348.3 58.9,347.8 58.9,347.3 58.9,346.6 58.9,346.0 59.0,345.2 59.0,344.5 59.0,343.6 59.1,342.7 59.1,341.8 59.1,340.7 59.2,339.6 59.2,338.4 59.2,337.2 59.2,335.8 59.3,334.4 59.3,332.9 59.3,331.3 59.4,329.6 59.4,327.8 59.4,326.0 59.5,324.1 59.5,322.0 59.5,319.9 59.5,317.7 59.6,315.4 59.6,313.1 59.6,310.6 59.7,308.1 59.7,305.5 59.7,302.8 59.8,300.1 59.8,297.4 59.8,294.5 59.8,291.7 59.9,288.8 59.9,285.8 59.9,282.9 60.0,279.9 60.0,277.0 60.0,274.0 60.1,271.1 60.1,268.2 60.1,265.4 60.1,262.6 60.2,259.9 60.2,257.2 60.2,254.6 60.3,252.2 60.3,249.8 60.3,247.5 60.4,245.4 60.4,243.4 60.4,241.6 60.4,239.9 60.5,238.4 60.5,237.0 60.5,235.9 60.6,234.9 60.6,234.1 60.6,233.4 60.7,233.0 60.7,232.8 60.7,232.9 60.8,233.3 60.8,233.8 60.8,234.6 60.9,235.5 60.9,236.6 60.9,237.9 61.0,239.4 61.0,241.0 61.0,242.8 61.0,244.7 61.1,246.8 61.1,249.0 61.1,251.4 61.2,253.8 61.2,256.3 61.2,259.0 61.3,261.7 61.3,264.5 61.3,267.3 61.3,270.2 61.4,273.1 61.4,276.0 61.4,279.0 61.5,281.9 61.5,284.9 61.5,287.8 61.6,290.7 61.6,293.6 61.6,296.4 61.6,299.2 61.7,301.9 61.7,304.6 61.7,307.2 61.8,309.8 61.8,312.3 61.8,314.6 61.9,317.0 61.9,319.2 61.9,321.3 61.9,323.4 62.0,325.4 62.0,327.2 62.0,329.0 62.1,330.7 62.1,332.4 62.1,333.9 62.2,335.4 62.2,336.7 62.2,338.0 62.2,339.2 62.3,340.4 62.3,341.4 62.3,342.4 62.4,343.3 62.4,344.2 62.4,345.0 62.5,345.7 62.5,346.4 62.5,347.1 62.5,347.6 62.6,348.2 62.6,348.7 62.6,349.1 62.7,349.5 62.7,349.9 62.7,350.2 62.8,350.5 62.8,350.8 62.8,351.1 62.8,351.3 62.9,351.5 62.9,351.7 62.9,351.9 63.0,352.0 63.0,352.2 63.0,352.3 63.1,352.4 63.1,352.5 63.1,352.6 63.1,352.7 63.2,352.7 63.2,352.8 63.3,352.9 63.3,353.0 63.4,353.0" stroke="#19833e" stroke-width="3.00" stroke-linecap="square"/>
<path d="M59.6,353.0 59.7,353.0 59.7,352.9 59.8,352.8 59.8,352.7 59.9,352.6 59.9,352.5 59.9,352.4 59.9,352.3 60.0,352.2 60.0,352.0 60.0,351.8 60.1,351.6 60.1,351.4 60.1,351.1 60.2,350.9 60.2,350.5 60.2,350.2 60.2,349.8 60.3,349.3 60.3,348.8 60.3,348.3 60.4,347.7 60.4,347.0 60.4,346.3 60.5,345.4 60.5,344.6 60.5,343.6 60.5,342.5 60.6,341.4 60.6,340.1 60.6,338.8 60.7,337.4 60.7,335.8 60.7,334.1 60.8,332.3 60.8,330.4 60.8,328.4 60.8,326.3 60.9,324.0 60.9,321.6 60.9,319.0 61.0,316.4 61.0,313.6 61.0,310.7 61.1,307.6 61.1,304.5 61.1,301.2 61.1,297.9 61.2,294.4 61.2,290.9 61.2,287.3 61.3,283.6 61.3,279.9 61.3,276.2 61.4,272.4 61.4,268.6 61.4,264.8 61.4,261.1 61.5,257.3 61.5,253.7 61.5,250.1 61.6,246.6 61.6,243.2 61.6,239.9 61.7,236.8 61.7,233.9 61.7,231.1 61.7,228.5 61.8,226.2 61.8,224.1 61.8,222.2 61.9,220.5 61.9,219.1 61.9,218.0 62.0,217.1 62.0,216.6 62.0,216.3 62.1,216.6 62.1,217.1 62.1,218.0 62.2,219.1 62.2,220.5 62.2,222.2 62.3,224.1 62.3,226.2 62.3,228.5 62.3,231.1 62.4,233.9 62.4,236.8 62.4,239.9 62.5,243.2 62.5,246.6 62.5,250.1 62.6,253.7 62.6,257.3 62.6,261.1 62.6,264.8 62.7,268.6 62.7,272.4 62.7,276.2 62.8,279.9 62.8,283.6 62.8,287.3 62.9,290.9 62.9,294.4 62.9,297.9 62.9,301.2 63.0,304.5 63.0,307.6 63.0,310.7 63.1,313.6 63.1,316.4 63.1,319.0 63.2,321.6 63.2,324.0 63.2,326.3 63.2,328.4 63.3,330.4 63.3,332.3 63.3,334.1 63.4,335.8 63.4,337.4 63.4,338.8 63.5,340.1 63.5,341.4 63.5,342.5 63.5,343.6 63.6,344.6 63.6,345.4 63.6,346.3 63.7,347.0 63.7,347.7 63.7,348.3 63.8,348.8 63.8,349.3 63.8,349.8 63.8,350.2 63.9,350.5 63.9,350.9 63.9,351.1 64.0,351.4 64.0,351.6 64.0,351.8 64.1,352.0 64.1,352.2 64.1,352.3 64.1,352.4 64.2,352.5 64.2,352.6 64.2,352.7 64.3,352.8 64.3,352.9 64.4,352.9 64.4,353.0" stroke="#006729" stroke-width="3.00" stroke-linecap="square"/>
<path d="M57.5,353.0 57.6,353.0 57.6,352.9 57.7,352.8 57.7,352.7 57.8,352.6 57.8,352.5 57.8,352.4 57.9,352.3 57.9,352.1 57.9,352.0 58.0,351.8 58.0,351.6 58.0,351.3 58.1,351.1 58.1,350.8 58.1,350.4 58.2,350.1 58.2,349.6 58.2,349.1 58.3,348.6 58.3,348.0 58.3,347.4 58.4,346.7 58.4,345.9 58.4,345.0 58.4,344.0 58.5,343.0 58.5,341.9 58.5,340.6 58.6,339.3 58.6,337.8 58.6,336.3 58.7,334.6 58.7,332.8 58.7,330.8 58.8,328.8 58.8,326.6 58.8,324.2 58.9,321.8 58.9,319.1 58.9,316.4 59.0,313.5 59.0,310.5 59.0,307.3 59.1,304.1 59.1,300.7 59.1,297.2 59.2,293.5 59.2,289.8 59.2,286.0 59.3,282.1 59.3,278.2 59.3,274.2 59.3,270.2 59.4,266.2 59.4,262.1 59.4,258.1 59.5,254.1 59.5,250.2 59.5,246.4 59.6,242.6 59.6,239.0 59.6,235.5 59.7,232.1 59.7,229.0 59.7,226.0 59.8,223.2 59.8,220.7 59.8,218.4 59.9,216.3 59.9,214.5 59.9,213.0 60.0,211.8 60.0,210.9 60.0,210.3 60.1,210.0 60.1,210.3 60.1,210.9 60.2,211.8 60.2,213.0 60.2,214.5 60.3,216.3 60.3,218.4 60.3,220.7 60.4,223.2 60.4,226.0 60.4,229.0 60.5,232.1 60.5,235.5 60.5,239.0 60.6,242.6 60.6,246.4 60.6,250.2 60.7,254.1 60.7,258.1 60.7,262.1 60.8,266.2 60.8,270.2 60.8,274.2 60.9,278.2 60.9,282.1 60.9,286.0 60.9,289.8 61.0,293.5 61.0,297.2 61.0,300.7 61.1,304.1 61.1,307.3 61.1,310.5 61.2,313.5 61.2,316.4 61.2,319.1 61.3,321.8 61.3,324.2 61.3,326.6 61.4,328.8 61.4,330.8 61.4,332.8 61.5,334.6 61.5,336.3 61.5,337.8 61.6,339.3 61.6,340.6 61.6,341.9 61.7,343.0 61.7,344.0 61.7,345.0 61.7,345.9 61.8,346.7 61.8,347.4 61.8,348.0 61.9,348.6 61.9,349.1 61.9,349.6 62.0,350.1 62.0,350.4 62.0,350.8 62.1,351.1 62.1,351.3 62.1,351.6 62.2,351.8 62.2,352.0 62.2,352.1 62.3,352.3 62.3,352.4 62.3,352.5 62.4,352.6 62.4,352.7 62.4,352.8 62.5,352.8 62.5,352.9 62.5,353.0 62.6,353.0" stroke="#00441b" stroke-width="3.00" stroke-linecap="square"/>
</g>
<path d="M33.50,204.50 H214.50 M33.50,360.00 H214.50 M33.50,204.50 V360.00 M214.50,204.50 V360.00" stroke="#000" stroke-width="0.75" fill="none" stroke-linecap="square"/>
<text x="54.80" y="373.10" font-size="9.30" text-anchor="middle" textLength="17.14" lengthAdjust="spacingAndGlyphs">0.00</text>
<text x="81.32" y="373.10" font-size="9.30" text-anchor="middle" textLength="17.14" lengthAdjust="spacingAndGlyphs">0.25</text>
<text x="107.83" y="373.10" font-size="9.30" text-anchor="middle" textLength="17.14" lengthAdjust="spacingAndGlyphs">0.50</text>
<text x="134.35" y="373.10" font-size="9.30" text-anchor="middle" textLength="17.14" lengthAdjust="spacingAndGlyphs">0.75</text>
<text x="160.87" y="373.10" font-size="9.30" text-anchor="middle" textLength="17.14" lengthAdjust="spacingAndGlyphs">1.00</text>
<text x="187.38" y="373.10" font-size="9.30" text-anchor="middle" textLength="17.14" lengthAdjust="spacingAndGlyphs">1.25</text>
<text x="213.90" y="373.10" font-size="9.30" text-anchor="middle" textLength="17.14" lengthAdjust="spacingAndGlyphs">1.50</text>
<text x="28.10" y="357.40" font-size="9.30" text-anchor="end" textLength="4.90" lengthAdjust="spacingAndGlyphs">0</text>
<text x="28.10" y="332.04" font-size="9.30" text-anchor="end" textLength="9.80" lengthAdjust="spacingAndGlyphs">20</text>
<text x="28.10" y="306.68" font-size="9.30" text-anchor="end" textLength="9.80" lengthAdjust="spacingAndGlyphs">40</text>
<text x="28.10" y="281.32" font-size="9.30" text-anchor="end" textLength="9.80" lengthAdjust="spacingAndGlyphs">60</text>
<text x="28.10" y="255.96" font-size="9.30" text-anchor="end" textLength="9.80" lengthAdjust="spacingAndGlyphs">80</text>
<text x="28.10" y="230.60" font-size="9.30" text-anchor="end" textLength="14.70" lengthAdjust="spacingAndGlyphs">100</text>
<path d="M55.40,360.00 V363.20 M81.92,360.00 V363.20 M108.43,360.00 V363.20 M134.95,360.00 V363.20 M161.47,360.00 V363.20 M187.98,360.00 V363.20 M214.50,360.00 V363.20 M30.30,353.20 H33.50 M30.30,327.84 H33.50 M30.30,302.48 H33.50 M30.30,277.12 H33.50 M30.30,251.76 H33.50 M30.30,226.40 H33.50" stroke="#000" stroke-width="0.75" fill="none"/>
<text x="123.30" y="200.10" font-size="10.80" text-anchor="middle" textLength="23.23" lengthAdjust="spacingAndGlyphs">work</text>
<text x="0.00" y="0.00" font-size="9.30" text-anchor="middle" textLength="34.30" lengthAdjust="spacingAndGlyphs" transform="translate(7.80,283.55) rotate(-90)">Posterior</text>
<rect x="265.00" y="204.50" width="180.50" height="155.50" fill="#f4f4f4"/>
<g clip-path="url(#c4)" fill="none" stroke-linejoin="round">
<path d="M264.5,353.2 265.4,353.2 266.3,353.2 267.2,353.2 268.1,353.2 269.1,353.2 270.0,353.2 270.9,353.2 271.8,353.2 272.7,353.2 273.6,353.2 274.5,353.2 275.4,353.2 276.3,353.2 277.2,353.2 278.1,353.2 279.1,353.2 280.0,353.2 280.9,353.2 281.8,353.2 282.7,353.2 283.6,353.2 284.5,353.2 285.4,353.2 286.3,352.2 287.2,352.0 288.2,351.9 289.1,351.7 290.0,351.6 290.9,351.4 291.8,351.1 292.7,350.9 293.6,350.7 294.5,350.4 295.4,350.1 296.3,349.7 297.2,349.4 298.2,349.0 299.1,348.6 300.0,348.2 300.9,347.7 301.8,347.3 302.7,346.7 303.6,346.2 304.5,345.6 305.4,345.0 306.3,344.4 307.3,343.8 308.2,343.1 309.1,342.4 310.0,341.7 310.9,341.0 311.8,340.3 312.7,339.5 313.6,338.8 314.5,338.0 315.4,337.3 316.3,336.5 317.3,335.7 318.2,335.0 319.1,334.3 320.0,333.5 320.9,332.8 321.8,332.2 322.7,331.5 323.6,330.9 324.5,330.4 325.4,329.8 326.4,329.3 327.3,328.9 328.2,328.5 329.1,328.2 330.0,327.9 330.9,327.7 331.8,327.5 332.7,327.4 333.6,327.4 334.5,327.4 335.4,327.5 336.4,327.7 337.3,327.9 338.2,328.1 339.1,328.5 340.0,328.8 340.9,329.3 341.8,329.7 342.7,330.3 343.6,330.8 344.5,331.4 345.5,332.1 346.4,332.7 347.3,333.4 348.2,334.1 349.1,334.9 350.0,335.6 350.9,336.4 351.8,337.1 352.7,337.9 353.6,338.6 354.5,339.4 355.5,340.1 356.4,340.9 357.3,341.6 358.2,342.3 359.1,343.0 360.0,343.7 360.9,344.3 361.8,344.9 362.7,345.5 363.6,346.1 364.6,346.6 365.5,347.2 366.4,347.7 367.3,348.1 368.2,348.5 369.1,349.0 370.0,349.3 370.9,349.7 371.8,350.0 372.7,350.3 373.6,350.6 374.6,350.9 375.5,351.1 376.4,351.3 377.3,351.5 378.2,351.7 379.1,351.9 380.0,352.0 380.9,352.2 381.8,352.3 382.7,352.4 383.7,352.5 384.6,352.6 385.5,352.7 386.4,352.7 387.3,352.8 388.2,352.8 389.1,352.9 390.0,352.9 390.9,353.0 391.8,353.0 392.7,353.0 393.7,353.1 394.6,353.1 395.5,353.1 396.4,353.1 397.3,353.1 398.2,353.1 399.1,353.1 400.0,353.2 400.9,353.2 401.8,353.2 402.8,353.2 403.7,353.2 404.6,353.2 405.5,353.2 406.4,353.2 407.3,353.2 408.2,353.2 409.1,353.2 410.0,353.2 410.9,353.2 411.8,353.2 412.8,353.2 413.7,353.2 414.6,353.2 415.5,353.2 416.4,353.2 417.3,353.2 418.2,353.2 419.1,353.2 420.0,353.2 420.9,353.2 421.9,353.2 422.8,353.2 423.7,353.2 424.6,353.2 425.5,353.2 426.4,353.2 427.3,353.2 428.2,353.2 429.1,353.2 430.0,353.2 430.9,353.2 431.9,353.2 432.8,353.2 433.7,353.2 434.6,353.2 435.5,353.2 436.4,353.2 437.3,353.2 438.2,353.2 439.1,353.2 440.0,353.2 441.0,353.2 441.9,353.2 442.8,353.2 443.7,353.2 444.6,353.2 445.5,353.2" stroke="#000" stroke-width="1.6" stroke-dasharray="5.96,2.59" stroke-dashoffset="8.16"/>
<path d="M290.6,352.5 291.1,352.4 291.7,352.3 292.2,352.3 292.7,352.2 293.3,352.1 293.8,352.1 294.3,352.0 294.9,351.9 295.4,351.8 295.9,351.7 296.5,351.6 297.0,351.5 297.5,351.4 298.1,351.3 298.6,351.2 299.1,351.0 299.7,350.9 300.2,350.7 300.7,350.6 301.3,350.4 301.8,350.3 302.3,350.1 302.9,349.9 303.4,349.7 303.9,349.5 304.5,349.3 305.0,349.1 305.6,348.9 306.1,348.7 306.6,348.4 307.2,348.2 307.7,347.9 308.2,347.7 308.8,347.4 309.3,347.1 309.8,346.8 310.4,346.5 310.9,346.2 311.4,345.9 312.0,345.6 312.5,345.2 313.0,344.9 313.6,344.6 314.1,344.2 314.6,343.8 315.2,343.5 315.7,343.1 316.2,342.7 316.8,342.3 317.3,341.9 317.8,341.5 318.4,341.1 318.9,340.7 319.4,340.3 320.0,339.9 320.5,339.4 321.0,339.0 321.6,338.6 322.1,338.1 322.7,337.7 323.2,337.3 323.7,336.9 324.3,336.4 324.8,336.0 325.3,335.6 325.9,335.1 326.4,334.7 326.9,334.3 327.5,333.9 328.0,333.5 328.5,333.1 329.1,332.7 329.6,332.3 330.1,332.0 330.7,331.6 331.2,331.3 331.7,330.9 332.3,330.6 332.8,330.3 333.3,330.0 333.9,329.7 334.4,329.4 334.9,329.2 335.5,328.9 336.0,328.7 336.5,328.5 337.1,328.3 337.6,328.1 338.1,328.0 338.7,327.8 339.2,327.7 339.8,327.6 340.3,327.5 340.8,327.5 341.4,327.4 341.9,327.4 342.4,327.4 343.0,327.4 343.5,327.5 344.0,327.6 344.6,327.7 345.1,327.9 345.6,328.1 346.2,328.3 346.7,328.5 347.2,328.8 347.8,329.1 348.3,329.5 348.8,329.8 349.4,330.2 349.9,330.6 350.4,331.0 351.0,331.5 351.5,331.9 352.0,332.4 352.6,332.9 353.1,333.4 353.6,334.0 354.2,334.5 354.7,335.0 355.2,335.6 355.8,336.1 356.3,336.7 356.8,337.3 357.4,337.8 357.9,338.4 358.5,338.9 359.0,339.5 359.5,340.0 360.1,340.6 360.6,341.1 361.1,341.7 361.7,342.2 362.2,342.7 362.7,343.2 363.3,343.7 363.8,344.1 364.3,344.6 364.9,345.1 365.4,345.5 365.9,345.9 366.5,346.3 367.0,346.7 367.5,347.1 368.1,347.5 368.6,347.8 369.1,348.1 369.7,348.5 370.2,348.8 370.7,349.1 371.3,349.3 371.8,349.6 372.3,349.9 372.9,350.1 373.4,350.3 373.9,350.5 374.5,350.7 375.0,350.9 375.6,351.1" stroke="#a9dca3" stroke-width="3.00" stroke-linecap="square"/>
<path d="M290.0,328.7 290.4,328.2 290.8,327.7 291.2,327.3 291.6,326.8 292.0,326.4 292.4,326.1 292.8,325.8 293.2,325.5 293.5,325.3 293.9,325.1 294.3,324.9 294.7,324.8 295.1,324.8 295.5,324.8 295.9,324.8 296.3,324.8 296.7,324.8 297.1,324.8 297.5,324.8 297.9,324.8 298.3,324.8 298.7,324.8 299.1,324.8 299.5,324.8 299.9,324.8 300.3,324.8 300.7,324.8 301.1,324.8 301.5,324.8 301.9,324.8 302.3,324.8 302.7,324.8 303.1,324.8 303.5,324.8 303.9,324.8 304.3,324.8 304.7,324.8 305.1,324.8 305.5,324.8 305.9,324.8 306.3,324.8 306.7,324.8 307.1,324.8 307.5,324.8 307.9,324.8 308.3,324.8 308.7,324.8 309.1,324.8 309.5,324.8 309.9,324.8 310.3,324.8 310.7,324.8 311.1,324.8 311.5,324.8 311.9,324.8 312.3,324.8 312.7,324.8 313.1,324.8 313.5,324.8 313.9,324.8 314.3,324.8 314.7,324.8 315.1,324.8 315.5,324.8 315.9,324.8 316.3,324.8 316.7,324.8 317.1,324.8 317.5,324.8 317.9,324.8 318.3,324.8 318.7,324.8 319.1,324.8 319.5,324.8 319.9,324.8 320.3,324.8 320.7,324.8 321.1,324.8 321.5,324.8 321.9,324.8 322.3,324.8 322.7,324.8 323.1,324.8 323.5,324.8 323.9,324.8 324.3,324.8 324.7,324.8 325.1,324.8 325.5,324.8 325.9,324.8 326.3,324.8 326.7,324.8 327.1,324.8 327.5,324.8 327.9,324.8 328.3,324.8 328.7,324.8 329.1,324.9 329.5,325.0 329.9,325.2 330.3,325.4 330.7,325.7 331.1,326.0 331.5,326.4 331.9,326.8 332.3,327.2 332.7,327.7 333.1,328.3 333.5,328.8 333.9,329.4 334.3,330.1 334.7,330.7 335.1,331.4 335.5,332.1 335.9,332.8 336.3,333.5 336.7,334.2 337.1,335.0 337.5,335.7 337.9,336.5 338.3,337.2 338.7,337.9 339.1,338.7 339.5,339.4 339.9,340.1 340.3,340.8 340.7,341.5 341.1,342.2 341.5,342.8 341.9,343.4 342.3,344.0 342.7,344.6 343.1,345.2 343.5,345.7 343.9,346.2 344.3,346.7 344.7,347.2 345.1,347.6 345.5,348.1 345.9,348.5 346.3,348.8 346.7,349.2 347.1,349.5 347.5,349.8 347.9,350.1 348.3,350.4 348.7,350.6 349.1,350.9 349.5,351.1 349.9,351.3 350.3,351.5 350.7,351.6 351.1,351.8 351.5,351.9 351.9,352.1 352.3,352.2 352.7,352.3 353.1,352.4 353.5,352.5" stroke="#83cb82" stroke-width="3.00" stroke-linecap="square"/>
<path d="M301.8,352.7 302.0,352.6 302.3,352.5 302.5,352.4 302.7,352.3 303.0,352.2 303.2,352.1 303.5,351.9 303.7,351.7 303.9,351.6 304.2,351.4 304.4,351.1 304.7,350.9 304.9,350.6 305.1,350.3 305.4,350.0 305.6,349.6 305.9,349.3 306.1,348.8 306.4,348.4 306.6,347.9 306.8,347.4 307.1,346.8 307.3,346.2 307.6,345.6 307.8,344.9 308.0,344.2 308.3,343.4 308.5,342.6 308.8,341.8 309.0,340.9 309.2,339.9 309.5,339.0 309.7,337.9 310.0,336.9 310.2,335.8 310.4,334.7 310.7,333.5 310.9,332.3 311.2,331.1 311.4,329.8 311.7,328.6 311.9,327.3 312.1,326.0 312.4,324.7 312.6,323.4 312.9,322.1 313.1,320.8 313.3,319.5 313.6,318.3 313.8,317.1 314.1,315.9 314.3,314.7 314.5,313.6 314.8,312.6 315.0,311.6 315.3,310.7 315.5,309.8 315.8,309.0 316.0,308.3 316.2,307.7 316.5,307.1 316.7,306.7 317.0,306.3 317.2,306.1 317.4,305.9 317.7,305.8 317.9,305.8 318.2,305.9 318.4,306.0 318.6,306.2 318.9,306.4 319.1,306.6 319.4,306.9 319.6,307.3 319.8,307.7 320.1,308.1 320.3,308.6 320.6,309.1 320.8,309.7 321.1,310.3 321.3,310.9 321.5,311.6 321.8,312.3 322.0,313.0 322.3,313.8 322.5,314.6 322.7,315.4 323.0,316.2 323.2,317.1 323.5,317.9 323.7,318.8 323.9,319.7 324.2,320.6 324.4,321.5 324.7,322.5 324.9,323.4 325.2,324.3 325.4,325.2 325.6,326.2 325.9,327.1 326.1,328.0 326.4,328.9 326.6,329.8 326.8,330.7 327.1,331.6 327.3,332.5 327.6,333.3 327.8,334.2 328.0,335.0 328.3,335.8 328.5,336.6 328.8,337.3 329.0,338.1 329.3,338.8 329.5,339.5 329.7,340.2 330.0,340.9 330.2,341.5 330.5,342.1 330.7,342.7 330.9,343.3 331.2,343.9 331.4,344.4 331.7,344.9 331.9,345.4 332.1,345.9 332.4,346.3 332.6,346.8 332.9,347.2 333.1,347.5 333.3,347.9 333.6,348.3 333.8,348.6 334.1,348.9 334.3,349.2 334.6,349.5 334.8,349.7 335.0,350.0 335.3,350.2 335.5,350.4 335.8,350.7 336.0,350.8 336.2,351.0 336.5,351.2 336.7,351.4 337.0,351.5 337.2,351.6 337.4,351.8 337.7,351.9 337.9,352.0 338.2,352.1 338.4,352.2 338.7,352.3 338.9,352.4 339.1,352.4 339.4,352.5 339.6,352.6 339.9,352.6 340.1,352.7" stroke="#58b668" stroke-width="3.00" stroke-linecap="square"/>
<path d="M299.6,353.1 299.9,353.0 300.1,353.0 300.3,353.0 300.5,352.9 300.7,352.9 300.9,352.8 301.1,352.8 301.4,352.7 301.6,352.6 301.8,352.5 302.0,352.4 302.2,352.2 302.4,352.1 302.6,351.9 302.9,351.7 303.1,351.5 303.3,351.3 303.5,351.0 303.7,350.7 303.9,350.4 304.1,350.0 304.4,349.6 304.6,349.1 304.8,348.6 305.0,348.1 305.2,347.5 305.4,346.8 305.6,346.1 305.9,345.3 306.1,344.5 306.3,343.6 306.5,342.6 306.7,341.6 306.9,340.5 307.1,339.3 307.4,338.0 307.6,336.7 307.8,335.3 308.0,333.8 308.2,332.3 308.4,330.7 308.6,329.1 308.9,327.3 309.1,325.6 309.3,323.8 309.5,321.9 309.7,320.0 309.9,318.1 310.1,316.2 310.4,314.3 310.6,312.4 310.8,310.4 311.0,308.6 311.2,306.7 311.4,304.9 311.6,303.1 311.9,301.5 312.1,299.9 312.3,298.3 312.5,296.9 312.7,295.6 312.9,294.4 313.1,293.4 313.4,292.5 313.6,291.7 313.8,291.0 314.0,290.6 314.2,290.2 314.4,290.1 314.6,290.0 314.9,290.1 315.1,290.2 315.3,290.4 315.5,290.7 315.7,291.1 315.9,291.5 316.1,292.0 316.4,292.5 316.6,293.1 316.8,293.8 317.0,294.5 317.2,295.3 317.4,296.1 317.6,297.0 317.9,298.0 318.1,298.9 318.3,300.0 318.5,301.0 318.7,302.1 318.9,303.3 319.1,304.4 319.4,305.6 319.6,306.8 319.8,308.1 320.0,309.3 320.2,310.6 320.4,311.8 320.6,313.1 320.9,314.4 321.1,315.7 321.3,317.0 321.5,318.2 321.7,319.5 321.9,320.8 322.1,322.0 322.4,323.3 322.6,324.5 322.8,325.7 323.0,326.9 323.2,328.0 323.4,329.2 323.6,330.3 323.9,331.3 324.1,332.4 324.3,333.4 324.5,334.4 324.7,335.4 324.9,336.3 325.1,337.2 325.4,338.1 325.6,338.9 325.8,339.8 326.0,340.5 326.2,341.3 326.4,342.0 326.6,342.7 326.9,343.3 327.1,343.9 327.3,344.5 327.5,345.1 327.7,345.6 327.9,346.2 328.1,346.6 328.4,347.1 328.6,347.5 328.8,347.9 329.0,348.3 329.2,348.7 329.4,349.0 329.6,349.3 329.9,349.6 330.1,349.9 330.3,350.2 330.5,350.4 330.7,350.6 330.9,350.8 331.1,351.0 331.4,351.2 331.6,351.4 331.8,351.5 332.0,351.7 332.2,351.8 332.4,351.9 332.6,352.1 332.9,352.2 333.1,352.3 333.3,352.3 333.5,352.4 333.7,352.5" stroke="#359e53" stroke-width="3.00" stroke-linecap="square"/>
<path d="M301.8,353.2 301.9,353.2 302.1,353.2 302.3,353.2 302.4,353.1 302.6,353.1 302.8,353.1 302.9,353.1 303.1,353.1 303.3,353.1 303.4,353.1 303.6,353.0 303.8,353.0 303.9,353.0 304.1,352.9 304.3,352.9 304.4,352.8 304.6,352.8 304.8,352.7 305.0,352.7 305.1,352.6 305.3,352.5 305.5,352.4 305.6,352.3 305.8,352.1 306.0,352.0 306.1,351.8 306.3,351.6 306.5,351.4 306.6,351.2 306.8,350.9 307.0,350.6 307.1,350.3 307.3,350.0 307.5,349.6 307.6,349.2 307.8,348.7 308.0,348.2 308.1,347.7 308.3,347.1 308.5,346.4 308.6,345.7 308.8,345.0 309.0,344.1 309.1,343.3 309.3,342.3 309.5,341.3 309.6,340.3 309.8,339.2 310.0,338.0 310.1,336.7 310.3,335.4 310.5,333.9 310.6,332.5 310.8,330.9 311.0,329.3 311.1,327.7 311.3,325.9 311.5,324.1 311.6,322.3 311.8,320.4 312.0,318.4 312.1,316.4 312.3,314.4 312.5,312.4 312.7,310.3 312.8,308.2 313.0,306.1 313.2,304.0 313.3,301.9 313.5,299.9 313.7,297.9 313.8,295.9 314.0,293.9 314.2,292.0 314.3,290.2 314.5,288.5 314.7,286.8 314.8,285.2 315.0,283.8 315.2,282.4 315.3,281.2 315.5,280.1 315.7,279.1 315.8,278.3 316.0,277.6 316.2,277.1 316.3,276.7 316.5,276.4 316.7,276.3 316.8,276.4 317.0,276.5 317.2,276.8 317.3,277.1 317.5,277.5 317.7,278.0 317.8,278.6 318.0,279.3 318.2,280.0 318.3,280.9 318.5,281.8 318.7,282.8 318.8,283.8 319.0,285.0 319.2,286.2 319.3,287.4 319.5,288.7 319.7,290.1 319.8,291.5 320.0,292.9 320.2,294.4 320.4,295.9 320.5,297.5 320.7,299.1 320.9,300.7 321.0,302.3 321.2,303.9 321.4,305.5 321.5,307.1 321.7,308.8 321.9,310.4 322.0,312.0 322.2,313.6 322.4,315.2 322.5,316.8 322.7,318.3 322.9,319.8 323.0,321.3 323.2,322.8 323.4,324.2 323.5,325.6 323.7,327.0 323.9,328.3 324.0,329.6 324.2,330.8 324.4,332.0 324.5,333.2 324.7,334.3 324.9,335.4 325.0,336.5 325.2,337.5 325.4,338.4 325.5,339.3 325.7,340.2 325.9,341.0 326.0,341.8 326.2,342.6 326.4,343.3 326.5,344.0 326.7,344.6 326.9,345.2 327.0,345.8 327.2,346.4 327.4,346.9 327.5,347.4 327.7,347.8 327.9,348.2 328.1,348.6 328.2,349.0 328.4,349.3" stroke="#19833e" stroke-width="3.00" stroke-linecap="square"/>
<path d="M294.3,353.2 294.5,353.2 294.7,353.2 294.8,353.2 295.0,353.2 295.2,353.2 295.3,353.2 295.5,353.2 295.7,353.2 295.8,353.2 296.0,353.2 296.2,353.2 296.3,353.1 296.5,353.1 296.7,353.1 296.8,353.1 297.0,353.1 297.2,353.0 297.3,353.0 297.5,353.0 297.7,352.9 297.8,352.9 298.0,352.8 298.2,352.7 298.3,352.7 298.5,352.6 298.7,352.4 298.8,352.3 299.0,352.2 299.2,352.0 299.3,351.8 299.5,351.5 299.7,351.3 299.8,351.0 300.0,350.6 300.2,350.2 300.3,349.8 300.5,349.3 300.7,348.7 300.8,348.1 301.0,347.4 301.2,346.6 301.3,345.8 301.5,344.8 301.7,343.8 301.9,342.7 302.0,341.4 302.2,340.1 302.4,338.6 302.5,337.1 302.7,335.4 302.9,333.6 303.0,331.6 303.2,329.5 303.4,327.3 303.5,325.0 303.7,322.6 303.9,320.0 304.0,317.3 304.2,314.5 304.4,311.6 304.5,308.6 304.7,305.5 304.9,302.3 305.0,299.1 305.2,295.9 305.4,292.6 305.5,289.3 305.7,285.9 305.9,282.7 306.0,279.4 306.2,276.2 306.4,273.1 306.5,270.1 306.7,267.3 306.9,264.6 307.0,262.0 307.2,259.6 307.4,257.4 307.5,255.5 307.7,253.8 307.9,252.3 308.0,251.1 308.2,250.1 308.4,249.5 308.5,249.1 308.7,249.0 308.9,249.1 309.0,249.4 309.2,250.0 309.4,250.8 309.6,251.7 309.7,252.9 309.9,254.2 310.1,255.7 310.2,257.4 310.4,259.2 310.6,261.2 310.7,263.4 310.9,265.6 311.1,268.0 311.2,270.5 311.4,273.1 311.6,275.7 311.7,278.4 311.9,281.2 312.1,284.0 312.2,286.8 312.4,289.6 312.6,292.5 312.7,295.3 312.9,298.1 313.1,300.9 313.2,303.6 313.4,306.3 313.6,309.0 313.7,311.5 313.9,314.0 314.1,316.4 314.2,318.8 314.4,321.0 314.6,323.2 314.7,325.3 314.9,327.3 315.1,329.2 315.2,331.0 315.4,332.7 315.6,334.3 315.7,335.8 315.9,337.3 316.1,338.6 316.2,339.9 316.4,341.0 316.6,342.1 316.7,343.1 316.9,344.1 317.1,345.0 317.3,345.8 317.4,346.5 317.6,347.2 317.8,347.8 317.9,348.4 318.1,348.9 318.3,349.3 318.4,349.8 318.6,350.1 318.8,350.5 318.9,350.8 319.1,351.1 319.3,351.3 319.4,351.6 319.6,351.8 319.8,351.9 319.9,352.1 320.1,352.2 320.3,352.4 320.4,352.5 320.6,352.6 320.8,352.7 320.9,352.7" stroke="#006729" stroke-width="3.00" stroke-linecap="square"/>
<path d="M294.3,353.2 294.5,353.2 294.6,353.2 294.8,353.2 294.9,353.2 295.1,353.2 295.2,353.2 295.4,353.2 295.5,353.2 295.7,353.2 295.9,353.2 296.0,353.2 296.2,353.2 296.3,353.2 296.5,353.2 296.6,353.1 296.8,353.1 296.9,353.1 297.1,353.1 297.2,353.1 297.4,353.0 297.6,353.0 297.7,353.0 297.9,352.9 298.0,352.9 298.2,352.8 298.3,352.8 298.5,352.7 298.6,352.6 298.8,352.5 298.9,352.4 299.1,352.3 299.2,352.1 299.4,351.9 299.6,351.7 299.7,351.5 299.9,351.2 300.0,351.0 300.2,350.6 300.3,350.2 300.5,349.8 300.6,349.4 300.8,348.8 300.9,348.2 301.1,347.6 301.2,346.9 301.4,346.1 301.6,345.2 301.7,344.2 301.9,343.1 302.0,342.0 302.2,340.7 302.3,339.3 302.5,337.8 302.6,336.1 302.8,334.4 302.9,332.5 303.1,330.5 303.2,328.3 303.4,326.0 303.6,323.5 303.7,320.9 303.9,318.1 304.0,315.2 304.2,312.1 304.3,308.9 304.5,305.6 304.6,302.1 304.8,298.5 304.9,294.8 305.1,291.0 305.3,287.1 305.4,283.1 305.6,279.0 305.7,274.9 305.9,270.7 306.0,266.5 306.2,262.3 306.3,258.2 306.5,254.1 306.6,250.0 306.8,246.0 306.9,242.1 307.1,238.4 307.3,234.8 307.4,231.4 307.6,228.1 307.7,225.1 307.9,222.3 308.0,219.7 308.2,217.5 308.3,215.5 308.5,213.8 308.6,212.4 308.8,211.3 308.9,210.5 309.1,210.1 309.3,210.0 309.4,210.2 309.6,210.6 309.7,211.3 309.9,212.3 310.0,213.5 310.2,214.9 310.3,216.6 310.5,218.5 310.6,220.6 310.8,222.9 311.0,225.4 311.1,228.1 311.3,231.0 311.4,234.0 311.6,237.1 311.7,240.3 311.9,243.7 312.0,247.2 312.2,250.7 312.3,254.3 312.5,257.9 312.6,261.6 312.8,265.3 313.0,269.0 313.1,272.7 313.3,276.3 313.4,280.0 313.6,283.5 313.7,287.1 313.9,290.5 314.0,293.9 314.2,297.2 314.3,300.5 314.5,303.6 314.6,306.6 314.8,309.5 315.0,312.3 315.1,315.0 315.3,317.6 315.4,320.1 315.6,322.4 315.7,324.7 315.9,326.8 316.0,328.8 316.2,330.7 316.3,332.5 316.5,334.2 316.6,335.7 316.8,337.2 317.0,338.6 317.1,339.9 317.3,341.1 317.4,342.2 317.6,343.2 317.7,344.1 317.9,345.0 318.0,345.8 318.2,346.5 318.3,347.2 318.5,347.8 318.7,348.4 318.8,348.9" stroke="#00441b" stroke-width="3.00" stroke-linecap="square"/>
</g>
<path d="M265.00,204.50 H445.50 M265.00,360.00 H445.50 M265.00,204.50 V360.00 M445.50,204.50 V360.00" stroke="#000" stroke-width="0.75" fill="none" stroke-linecap="square"/>
<text x="285.20" y="373.10" font-size="9.30" text-anchor="middle" textLength="17.14" lengthAdjust="spacingAndGlyphs">0.00</text>
<text x="311.82" y="373.10" font-size="9.30" text-anchor="middle" textLength="17.14" lengthAdjust="spacingAndGlyphs">0.25</text>
<text x="338.43" y="373.10" font-size="9.30" text-anchor="middle" textLength="17.14" lengthAdjust="spacingAndGlyphs">0.50</text>
<text x="365.05" y="373.10" font-size="9.30" text-anchor="middle" textLength="17.14" lengthAdjust="spacingAndGlyphs">0.75</text>
<text x="391.67" y="373.10" font-size="9.30" text-anchor="middle" textLength="17.14" lengthAdjust="spacingAndGlyphs">1.00</text>
<text x="418.28" y="373.10" font-size="9.30" text-anchor="middle" textLength="17.14" lengthAdjust="spacingAndGlyphs">1.25</text>
<text x="444.90" y="373.10" font-size="9.30" text-anchor="middle" textLength="17.14" lengthAdjust="spacingAndGlyphs">1.50</text>
<text x="259.60" y="357.40" font-size="9.30" text-anchor="end" textLength="4.90" lengthAdjust="spacingAndGlyphs">0</text>
<text x="259.60" y="336.34" font-size="9.30" text-anchor="end" textLength="4.90" lengthAdjust="spacingAndGlyphs">2</text>
<text x="259.60" y="315.29" font-size="9.30" text-anchor="end" textLength="4.90" lengthAdjust="spacingAndGlyphs">4</text>
<text x="259.60" y="294.23" font-size="9.30" text-anchor="end" textLength="4.90" lengthAdjust="spacingAndGlyphs">6</text>
<text x="259.60" y="273.17" font-size="9.30" text-anchor="end" textLength="4.90" lengthAdjust="spacingAndGlyphs">8</text>
<text x="259.60" y="252.11" font-size="9.30" text-anchor="end" textLength="9.80" lengthAdjust="spacingAndGlyphs">10</text>
<text x="259.60" y="231.06" font-size="9.30" text-anchor="end" textLength="9.80" lengthAdjust="spacingAndGlyphs">12</text>
<text x="259.60" y="210.00" font-size="9.30" text-anchor="end" textLength="9.80" lengthAdjust="spacingAndGlyphs">14</text>
<path d="M285.80,360.00 V363.20 M312.42,360.00 V363.20 M339.03,360.00 V363.20 M365.65,360.00 V363.20 M392.27,360.00 V363.20 M418.88,360.00 V363.20 M445.50,360.00 V363.20 M261.80,353.20 H265.00 M261.80,332.14 H265.00 M261.80,311.09 H265.00 M261.80,290.03 H265.00 M261.80,268.97 H265.00 M261.80,247.91 H265.00 M261.80,226.86 H265.00 M261.80,205.80 H265.00" stroke="#000" stroke-width="0.75" fill="none"/>
<text x="354.55" y="200.10" font-size="10.80" text-anchor="middle" textLength="78.66" lengthAdjust="spacingAndGlyphs">presymptomatic</text>
<text x="0.00" y="0.00" font-size="9.30" text-anchor="middle" textLength="34.30" lengthAdjust="spacingAndGlyphs" transform="translate(243.80,283.55) rotate(-90)">Posterior</text>
<rect x="495.50" y="204.50" width="181.50" height="155.50" fill="#f4f4f4"/>
<g clip-path="url(#c5)" fill="none" stroke-linejoin="round">
<path d="M496.1,353.2 497.0,353.2 497.9,353.2 498.8,353.2 499.8,353.2 500.7,353.2 501.6,353.2 502.5,353.1 503.4,353.1 504.3,353.1 505.2,353.1 506.1,353.1 507.0,353.1 507.9,353.1 508.8,353.0 509.8,353.0 510.7,353.0 511.6,352.9 512.5,352.9 513.4,352.9 514.3,352.8 515.2,352.8 516.1,352.7 517.0,352.6 517.9,352.5 518.8,352.5 519.8,352.4 520.7,352.3 521.6,352.2 522.5,352.0 523.4,351.9 524.3,351.7 525.2,351.6 526.1,351.4 527.0,351.2 527.9,351.0 528.8,350.8 529.8,350.5 530.7,350.3 531.6,350.0 532.5,349.7 533.4,349.4 534.3,349.1 535.2,348.7 536.1,348.4 537.0,348.0 537.9,347.6 538.8,347.2 539.7,346.8 540.7,346.3 541.6,345.9 542.5,345.4 543.4,344.9 544.3,344.5 545.2,344.0 546.1,343.5 547.0,343.0 547.9,342.5 548.8,342.0 549.7,341.6 550.7,341.1 551.6,340.6 552.5,340.2 553.4,339.8 554.3,339.3 555.2,339.0 556.1,338.6 557.0,338.3 557.9,337.9 558.8,337.7 559.7,337.4 560.7,337.2 561.6,337.0 562.5,336.9 563.4,336.8 564.3,336.7 565.2,336.7 566.1,336.7 567.0,336.8 567.9,336.9 568.8,337.0 569.7,337.2 570.7,337.4 571.6,337.6 572.5,337.9 573.4,338.2 574.3,338.5 575.2,338.9 576.1,339.3 577.0,339.7 577.9,340.1 578.8,340.5 579.7,341.0 580.7,341.5 581.6,341.9 582.5,342.4 583.4,342.9 584.3,343.4 585.2,343.9 586.1,344.4 587.0,344.9 587.9,345.3 588.8,345.8 589.7,346.2 590.7,346.7 591.6,347.1 592.5,347.5 593.4,347.9 594.3,348.3 595.2,348.7 596.1,349.0 597.0,349.3 597.9,349.7 598.8,349.9 599.7,350.2 600.6,350.5 601.6,350.7 602.5,351.0 603.4,351.2 604.3,351.4 605.2,351.5 606.1,351.7 607.0,351.9 607.9,352.0 608.8,352.1 609.7,352.2 610.6,352.4 611.6,352.4 612.5,352.5 613.4,352.6 614.3,352.7 615.2,352.7 616.1,352.8 617.0,352.9 617.9,352.9 618.8,352.9 619.7,353.0 620.6,353.0 621.6,353.0 622.5,353.1 623.4,353.1 624.3,353.1 625.2,353.1 626.1,353.1 627.0,353.1 627.9,353.1 628.8,353.2 629.7,353.2 630.6,353.2 631.6,353.2 632.5,353.2 633.4,353.2 634.3,353.2 635.2,353.2 636.1,353.2 637.0,353.2 637.9,353.2 638.8,353.2 639.7,353.2 640.6,353.2 641.6,353.2 642.5,353.2 643.4,353.2 644.3,353.2 645.2,353.2 646.1,353.2 647.0,353.2 647.9,353.2 648.8,353.2 649.7,353.2 650.6,353.2 651.5,353.2 652.5,353.2 653.4,353.2 654.3,353.2 655.2,353.2 656.1,353.2 657.0,353.2 657.9,353.2 658.8,353.2 659.7,353.2 660.6,353.2 661.5,353.2 662.5,353.2 663.4,353.2 664.3,353.2 665.2,353.2 666.1,353.2 667.0,353.2 667.9,353.2 668.8,353.2 669.7,353.2 670.6,353.2 671.5,353.2 672.5,353.2 673.4,353.2 674.3,353.2 675.2,353.2 676.1,353.2 677.0,353.2" stroke="#000" stroke-width="1.6" stroke-dasharray="5.96,2.59" stroke-dashoffset="0.12"/>
<path d="M531.0,350.3 531.4,350.2 531.9,350.0 532.3,349.8 532.7,349.6 533.1,349.4 533.5,349.2 533.9,349.0 534.3,348.8 534.8,348.6 535.2,348.4 535.6,348.1 536.0,347.9 536.4,347.7 536.8,347.4 537.3,347.1 537.7,346.9 538.1,346.6 538.5,346.3 538.9,346.0 539.3,345.7 539.8,345.4 540.2,345.1 540.6,344.8 541.0,344.5 541.4,344.2 541.8,343.9 542.3,343.6 542.7,343.2 543.1,342.9 543.5,342.6 543.9,342.3 544.3,341.9 544.8,341.6 545.2,341.3 545.6,340.9 546.0,340.6 546.4,340.3 546.8,340.0 547.3,339.6 547.7,339.3 548.1,339.0 548.5,338.7 548.9,338.4 549.3,338.1 549.7,337.8 550.2,337.5 550.6,337.3 551.0,337.0 551.4,336.7 551.8,336.5 552.2,336.3 552.7,336.0 553.1,335.8 553.5,335.6 553.9,335.5 554.3,335.3 554.7,335.1 555.2,335.0 555.6,334.9 556.0,334.7 556.4,334.6 556.8,334.6 557.2,334.5 557.7,334.4 558.1,334.4 558.5,334.4 558.9,334.4 559.3,334.4 559.7,334.4 560.2,334.4 560.6,334.4 561.0,334.5 561.4,334.5 561.8,334.6 562.2,334.7 562.7,334.7 563.1,334.8 563.5,334.9 563.9,335.0 564.3,335.1 564.7,335.3 565.2,335.4 565.6,335.5 566.0,335.7 566.4,335.8 566.8,336.0 567.2,336.2 567.6,336.3 568.1,336.5 568.5,336.7 568.9,336.9 569.3,337.1 569.7,337.3 570.1,337.5 570.6,337.7 571.0,337.9 571.4,338.2 571.8,338.4 572.2,338.6 572.6,338.9 573.1,339.1 573.5,339.3 573.9,339.6 574.3,339.8 574.7,340.1 575.1,340.3 575.6,340.6 576.0,340.8 576.4,341.1 576.8,341.3 577.2,341.6 577.6,341.8 578.1,342.1 578.5,342.4 578.9,342.6 579.3,342.9 579.7,343.1 580.1,343.4 580.6,343.6 581.0,343.9 581.4,344.1 581.8,344.4 582.2,344.6 582.6,344.8 583.0,345.1 583.5,345.3 583.9,345.5 584.3,345.8 584.7,346.0 585.1,346.2 585.5,346.4 586.0,346.6 586.4,346.9 586.8,347.1 587.2,347.3 587.6,347.5 588.0,347.7 588.5,347.9 588.9,348.0 589.3,348.2 589.7,348.4 590.1,348.6 590.5,348.8 591.0,348.9 591.4,349.1 591.8,349.2 592.2,349.4 592.6,349.5 593.0,349.7 593.5,349.8 593.9,350.0 594.3,350.1 594.7,350.2 595.1,350.4 595.5,350.5 596.0,350.6 596.4,350.7 596.8,350.8 597.2,350.9" stroke="#a9dca3" stroke-width="3.00" stroke-linecap="square"/>
<path d="M532.0,352.2 532.4,352.1 532.7,352.1 533.1,352.0 533.5,351.9 533.9,351.8 534.2,351.7 534.6,351.6 535.0,351.5 535.4,351.4 535.7,351.3 536.1,351.2 536.5,351.0 536.9,350.9 537.3,350.8 537.6,350.6 538.0,350.5 538.4,350.3 538.8,350.2 539.1,350.0 539.5,349.8 539.9,349.6 540.3,349.5 540.6,349.3 541.0,349.1 541.4,348.9 541.8,348.6 542.1,348.4 542.5,348.2 542.9,348.0 543.3,347.7 543.7,347.5 544.0,347.3 544.4,347.0 544.8,346.8 545.2,346.5 545.5,346.2 545.9,346.0 546.3,345.7 546.7,345.4 547.0,345.1 547.4,344.8 547.8,344.6 548.2,344.3 548.6,344.0 548.9,343.7 549.3,343.4 549.7,343.1 550.1,342.8 550.4,342.5 550.8,342.3 551.2,342.0 551.6,341.7 551.9,341.4 552.3,341.1 552.7,340.9 553.1,340.6 553.5,340.4 553.8,340.1 554.2,339.9 554.6,339.6 555.0,339.4 555.3,339.2 555.7,338.9 556.1,338.7 556.5,338.5 556.8,338.4 557.2,338.2 557.6,338.0 558.0,337.9 558.3,337.7 558.7,337.6 559.1,337.5 559.5,337.4 559.9,337.3 560.2,337.2 560.6,337.2 561.0,337.1 561.4,337.1 561.7,337.1 562.1,337.0 562.5,337.1 562.9,337.1 563.2,337.1 563.6,337.2 564.0,337.3 564.4,337.4 564.8,337.5 565.1,337.7 565.5,337.9 565.9,338.0 566.3,338.2 566.6,338.5 567.0,338.7 567.4,338.9 567.8,339.2 568.1,339.5 568.5,339.7 568.9,340.0 569.3,340.3 569.7,340.7 570.0,341.0 570.4,341.3 570.8,341.6 571.2,342.0 571.5,342.3 571.9,342.7 572.3,343.0 572.7,343.3 573.0,343.7 573.4,344.0 573.8,344.4 574.2,344.7 574.5,345.1 574.9,345.4 575.3,345.7 575.7,346.1 576.1,346.4 576.4,346.7 576.8,347.0 577.2,347.3 577.6,347.6 577.9,347.9 578.3,348.2 578.7,348.4 579.1,348.7 579.4,348.9 579.8,349.2 580.2,349.4 580.6,349.6 581.0,349.8 581.3,350.1 581.7,350.2 582.1,350.4 582.5,350.6 582.8,350.8 583.2,351.0 583.6,351.1 584.0,351.3 584.3,351.4 584.7,351.5 585.1,351.6 585.5,351.8 585.9,351.9 586.2,352.0 586.6,352.1 587.0,352.2 587.4,352.2 587.7,352.3 588.1,352.4 588.5,352.5 588.9,352.5 589.2,352.6 589.6,352.6 590.0,352.7 590.4,352.7 590.7,352.8 591.1,352.8 591.5,352.8 591.9,352.9" stroke="#83cb82" stroke-width="3.00" stroke-linecap="square"/>
<path d="M544.0,352.3 544.2,352.2 544.5,352.2 544.7,352.1 544.9,352.0 545.2,351.9 545.4,351.8 545.6,351.6 545.9,351.5 546.1,351.4 546.3,351.2 546.6,351.1 546.8,350.9 547.0,350.7 547.3,350.6 547.5,350.4 547.7,350.2 548.0,349.9 548.2,349.7 548.5,349.5 548.7,349.2 548.9,349.0 549.2,348.7 549.4,348.4 549.6,348.1 549.9,347.7 550.1,347.4 550.3,347.1 550.6,346.7 550.8,346.3 551.0,345.9 551.3,345.5 551.5,345.1 551.7,344.6 552.0,344.2 552.2,343.7 552.4,343.2 552.7,342.7 552.9,342.2 553.1,341.6 553.4,341.1 553.6,340.5 553.8,339.9 554.1,339.4 554.3,338.8 554.5,338.2 554.8,337.5 555.0,336.9 555.2,336.3 555.5,335.6 555.7,335.0 555.9,334.3 556.2,333.6 556.4,333.0 556.6,332.3 556.9,331.6 557.1,331.0 557.4,330.3 557.6,329.7 557.8,329.0 558.1,328.3 558.3,327.7 558.5,327.1 558.8,326.5 559.0,325.8 559.2,325.2 559.5,324.7 559.7,324.1 559.9,323.6 560.2,323.0 560.4,322.5 560.6,322.0 560.9,321.6 561.1,321.1 561.3,320.7 561.6,320.4 561.8,320.0 562.0,319.7 562.3,319.4 562.5,319.1 562.7,318.9 563.0,318.7 563.2,318.5 563.4,318.4 563.7,318.3 563.9,318.2 564.1,318.2 564.4,318.2 564.6,318.3 564.8,318.4 565.1,318.7 565.3,318.9 565.5,319.3 565.8,319.7 566.0,320.2 566.3,320.7 566.5,321.2 566.7,321.9 567.0,322.5 567.2,323.3 567.4,324.0 567.7,324.8 567.9,325.6 568.1,326.5 568.4,327.4 568.6,328.3 568.8,329.2 569.1,330.1 569.3,331.0 569.5,331.9 569.8,332.9 570.0,333.8 570.2,334.7 570.5,335.6 570.7,336.5 570.9,337.4 571.2,338.3 571.4,339.1 571.6,340.0 571.9,340.8 572.1,341.5 572.3,342.3 572.6,343.0 572.8,343.7 573.0,344.4 573.3,345.0 573.5,345.6 573.7,346.2 574.0,346.7 574.2,347.2 574.4,347.7 574.7,348.1 574.9,348.6 575.2,349.0 575.4,349.3 575.6,349.7 575.9,350.0 576.1,350.3 576.3,350.6 576.6,350.8 576.8,351.1 577.0,351.3 577.3,351.5 577.5,351.6 577.7,351.8 578.0,352.0 578.2,352.1 578.4,352.2 578.7,352.3 578.9,352.4 579.1,352.5 579.4,352.6 579.6,352.7 579.8,352.7 580.1,352.8 580.3,352.8 580.5,352.9 580.8,352.9 581.0,353.0 581.2,353.0" stroke="#58b668" stroke-width="3.00" stroke-linecap="square"/>
<path d="M557.4,352.8 557.6,352.7 557.7,352.7 557.9,352.6 558.0,352.5 558.2,352.4 558.3,352.3 558.5,352.2 558.6,352.1 558.8,351.9 558.9,351.8 559.1,351.6 559.2,351.4 559.4,351.2 559.5,351.0 559.7,350.7 559.8,350.5 560.0,350.2 560.1,349.8 560.3,349.5 560.4,349.1 560.6,348.6 560.7,348.2 560.9,347.7 561.0,347.2 561.2,346.6 561.3,346.0 561.5,345.3 561.6,344.6 561.8,343.8 561.9,343.0 562.1,342.1 562.2,341.2 562.4,340.2 562.5,339.2 562.7,338.1 562.8,336.9 563.0,335.7 563.1,334.4 563.3,333.1 563.4,331.7 563.6,330.2 563.7,328.7 563.9,327.2 564.0,325.5 564.2,323.9 564.3,322.1 564.5,320.3 564.6,318.5 564.8,316.6 564.9,314.7 565.1,312.8 565.2,310.8 565.4,308.8 565.5,306.8 565.7,304.8 565.8,302.7 566.0,300.7 566.1,298.7 566.3,296.7 566.4,294.7 566.6,292.7 566.7,290.8 566.8,288.9 567.0,287.0 567.1,285.2 567.3,283.5 567.4,281.9 567.6,280.3 567.7,278.8 567.9,277.4 568.0,276.1 568.2,275.0 568.3,273.9 568.5,272.9 568.6,272.1 568.8,271.4 568.9,270.8 569.1,270.3 569.2,270.0 569.4,269.8 569.5,269.7 569.7,269.9 569.8,270.1 570.0,270.6 570.1,271.3 570.3,272.1 570.4,273.1 570.6,274.2 570.7,275.5 570.9,277.0 571.0,278.6 571.2,280.3 571.3,282.2 571.5,284.1 571.6,286.1 571.8,288.3 571.9,290.5 572.1,292.7 572.2,295.0 572.4,297.3 572.5,299.7 572.7,302.1 572.8,304.5 573.0,306.8 573.1,309.2 573.3,311.5 573.4,313.8 573.6,316.0 573.7,318.2 573.9,320.4 574.0,322.4 574.2,324.4 574.3,326.4 574.5,328.2 574.6,330.0 574.8,331.7 574.9,333.3 575.1,334.9 575.2,336.3 575.4,337.7 575.5,339.0 575.7,340.2 575.8,341.4 576.0,342.4 576.1,343.4 576.3,344.3 576.4,345.2 576.6,346.0 576.7,346.7 576.9,347.3 577.0,347.9 577.2,348.5 577.3,349.0 577.5,349.5 577.6,349.9 577.8,350.3 577.9,350.6 578.1,350.9 578.2,351.2 578.4,351.4 578.5,351.6 578.7,351.8 578.8,352.0 579.0,352.2 579.1,352.3 579.3,352.4 579.4,352.5 579.6,352.6 579.7,352.7 579.9,352.8 580.0,352.8 580.2,352.9 580.3,352.9 580.5,353.0 580.6,353.0 580.8,353.0 580.9,353.1 581.1,353.1 581.2,353.1" stroke="#359e53" stroke-width="3.00" stroke-linecap="square"/>
<path d="M560.0,353.0 560.1,352.9 560.3,352.9 560.5,352.9 560.6,352.8 560.8,352.7 561.0,352.7 561.1,352.6 561.3,352.5 561.5,352.4 561.6,352.3 561.8,352.2 562.0,352.0 562.1,351.8 562.3,351.7 562.5,351.5 562.6,351.2 562.8,351.0 563.0,350.7 563.1,350.4 563.3,350.0 563.5,349.7 563.6,349.3 563.8,348.8 564.0,348.3 564.1,347.8 564.3,347.2 564.5,346.6 564.6,345.9 564.8,345.1 565.0,344.3 565.1,343.5 565.3,342.5 565.5,341.6 565.6,340.5 565.8,339.4 566.0,338.2 566.1,336.9 566.3,335.6 566.5,334.2 566.7,332.8 566.8,331.2 567.0,329.6 567.2,328.0 567.3,326.2 567.5,324.4 567.7,322.6 567.8,320.7 568.0,318.7 568.2,316.8 568.3,314.7 568.5,312.7 568.7,310.6 568.8,308.5 569.0,306.4 569.2,304.3 569.3,302.2 569.5,300.1 569.7,298.0 569.8,296.0 570.0,294.0 570.2,292.1 570.3,290.3 570.5,288.5 570.7,286.8 570.8,285.2 571.0,283.7 571.2,282.3 571.3,281.0 571.5,279.9 571.7,278.9 571.8,278.0 572.0,277.2 572.2,276.7 572.3,276.2 572.5,275.9 572.7,275.8 572.8,275.9 573.0,276.1 573.2,276.6 573.3,277.2 573.5,278.1 573.7,279.2 573.8,280.4 574.0,281.8 574.2,283.4 574.3,285.2 574.5,287.0 574.7,289.0 574.8,291.1 575.0,293.3 575.2,295.6 575.4,298.0 575.5,300.4 575.7,302.8 575.9,305.3 576.0,307.7 576.2,310.2 576.4,312.6 576.5,315.0 576.7,317.4 576.9,319.7 577.0,321.9 577.2,324.1 577.4,326.2 577.5,328.2 577.7,330.1 577.9,332.0 578.0,333.7 578.2,335.3 578.4,336.9 578.5,338.4 578.7,339.7 578.9,341.0 579.0,342.2 579.2,343.3 579.4,344.3 579.5,345.2 579.7,346.1 579.9,346.9 580.0,347.6 580.2,348.2 580.4,348.8 580.5,349.3 580.7,349.8 580.9,350.2 581.0,350.6 581.2,350.9 581.4,351.2 581.5,351.5 581.7,351.7 581.9,351.9 582.0,352.1 582.2,352.3 582.4,352.4 582.5,352.5 582.7,352.6 582.9,352.7 583.0,352.8 583.2,352.8 583.4,352.9 583.5,353.0 583.7,353.0 583.9,353.0 584.1,353.1 584.2,353.1 584.4,353.1 584.6,353.1 584.7,353.1 584.9,353.1 585.1,353.2 585.2,353.2 585.4,353.2 585.6,353.2 585.7,353.2 585.9,353.2 586.1,353.2 586.2,353.2 586.4,353.2 586.6,353.2" stroke="#19833e" stroke-width="3.00" stroke-linecap="square"/>
<path d="M562.1,353.2 562.3,353.2 562.4,353.2 562.6,353.2 562.8,353.2 563.0,353.2 563.1,353.2 563.3,353.2 563.5,353.2 563.7,353.2 563.8,353.1 564.0,353.1 564.2,353.1 564.3,353.1 564.5,353.1 564.7,353.1 564.9,353.0 565.0,353.0 565.2,353.0 565.4,352.9 565.6,352.9 565.7,352.8 565.9,352.7 566.1,352.6 566.3,352.5 566.4,352.4 566.6,352.2 566.8,352.1 567.0,351.9 567.1,351.7 567.3,351.4 567.5,351.2 567.7,350.8 567.8,350.5 568.0,350.1 568.2,349.6 568.4,349.2 568.5,348.6 568.7,348.0 568.9,347.3 569.0,346.6 569.2,345.8 569.4,344.9 569.6,343.9 569.7,342.8 569.9,341.7 570.1,340.5 570.3,339.2 570.4,337.8 570.6,336.3 570.8,334.7 571.0,333.1 571.1,331.3 571.3,329.5 571.5,327.6 571.7,325.6 571.8,323.6 572.0,321.5 572.2,319.3 572.4,317.2 572.5,314.9 572.7,312.7 572.9,310.5 573.0,308.3 573.2,306.1 573.4,304.0 573.6,301.9 573.7,299.8 573.9,297.9 574.1,296.1 574.3,294.3 574.4,292.7 574.6,291.3 574.8,290.0 575.0,288.9 575.1,287.9 575.3,287.1 575.5,286.5 575.7,286.1 575.8,285.9 576.0,285.9 576.2,286.1 576.4,286.5 576.5,287.1 576.7,287.9 576.9,288.9 577.1,290.0 577.2,291.3 577.4,292.7 577.6,294.3 577.7,296.1 577.9,297.9 578.1,299.8 578.3,301.9 578.4,304.0 578.6,306.1 578.8,308.3 579.0,310.5 579.1,312.7 579.3,314.9 579.5,317.2 579.7,319.3 579.8,321.5 580.0,323.6 580.2,325.6 580.4,327.6 580.5,329.5 580.7,331.3 580.9,333.1 581.1,334.7 581.2,336.3 581.4,337.8 581.6,339.2 581.7,340.5 581.9,341.7 582.1,342.8 582.3,343.9 582.4,344.9 582.6,345.8 582.8,346.6 583.0,347.3 583.1,348.0 583.3,348.6 583.5,349.2 583.7,349.6 583.8,350.1 584.0,350.5 584.2,350.8 584.4,351.2 584.5,351.4 584.7,351.7 584.9,351.9 585.1,352.1 585.2,352.2 585.4,352.4 585.6,352.5 585.8,352.6 585.9,352.7 586.1,352.8 586.3,352.9 586.4,352.9 586.6,353.0 586.8,353.0 587.0,353.0 587.1,353.1 587.3,353.1 587.5,353.1 587.7,353.1 587.8,353.1 588.0,353.1 588.2,353.2 588.4,353.2 588.5,353.2 588.7,353.2 588.9,353.2 589.1,353.2 589.2,353.2 589.4,353.2 589.6,353.2 589.8,353.2" stroke="#006729" stroke-width="3.00" stroke-linecap="square"/>
<path d="M565.3,353.2 565.4,353.2 565.6,353.2 565.7,353.2 565.9,353.2 566.0,353.2 566.2,353.2 566.4,353.2 566.5,353.2 566.7,353.2 566.8,353.2 567.0,353.2 567.1,353.2 567.3,353.2 567.4,353.2 567.6,353.2 567.7,353.2 567.9,353.2 568.1,353.2 568.2,353.2 568.4,353.2 568.5,353.2 568.7,353.2 568.8,353.2 569.0,353.2 569.1,353.2 569.3,353.2 569.4,353.2 569.6,353.2 569.7,353.2 569.9,353.2 570.1,353.1 570.2,353.1 570.4,353.1 570.5,353.1 570.7,353.0 570.8,353.0 571.0,352.9 571.1,352.8 571.3,352.7 571.4,352.6 571.6,352.4 571.7,352.2 571.9,352.0 572.1,351.7 572.2,351.3 572.4,350.9 572.5,350.4 572.7,349.7 572.8,349.0 573.0,348.1 573.1,347.1 573.3,345.9 573.4,344.5 573.6,342.9 573.7,341.1 573.9,339.0 574.1,336.7 574.2,334.1 574.4,331.2 574.5,327.9 574.7,324.4 574.8,320.5 575.0,316.2 575.1,311.7 575.3,306.8 575.4,301.6 575.6,296.2 575.7,290.5 575.9,284.5 576.1,278.5 576.2,272.3 576.4,266.0 576.5,259.8 576.7,253.6 576.8,247.6 577.0,241.8 577.1,236.3 577.3,231.1 577.4,226.4 577.6,222.2 577.7,218.6 577.9,215.6 578.1,213.3 578.2,211.6 578.4,210.7 578.5,210.5 578.7,211.0 578.8,212.1 579.0,213.8 579.1,216.1 579.3,218.9 579.4,222.2 579.6,226.0 579.7,230.2 579.9,234.8 580.1,239.7 580.2,244.8 580.4,250.2 580.5,255.7 580.7,261.4 580.8,267.1 581.0,272.7 581.1,278.4 581.3,283.9 581.4,289.3 581.6,294.5 581.7,299.6 581.9,304.4 582.1,309.0 582.2,313.3 582.4,317.4 582.5,321.1 582.7,324.6 582.8,327.9 583.0,330.8 583.1,333.5 583.3,336.0 583.4,338.2 583.6,340.2 583.7,341.9 583.9,343.5 584.1,344.9 584.2,346.1 584.4,347.2 584.5,348.1 584.7,348.9 584.8,349.6 585.0,350.2 585.1,350.7 585.3,351.1 585.4,351.5 585.6,351.8 585.8,352.1 585.9,352.3 586.1,352.5 586.2,352.6 586.4,352.7 586.5,352.8 586.7,352.9 586.8,353.0 587.0,353.0 587.1,353.0 587.3,353.1 587.4,353.1 587.6,353.1 587.8,353.1 587.9,353.2 588.1,353.2 588.2,353.2 588.4,353.2 588.5,353.2 588.7,353.2 588.8,353.2 589.0,353.2 589.1,353.2 589.3,353.2 589.4,353.2 589.6,353.2 589.8,353.2" stroke="#00441b" stroke-width="3.00" stroke-linecap="square"/>
</g>
<path d="M495.50,204.50 H677.00 M495.50,360.00 H677.00 M495.50,204.50 V360.00 M677.00,204.50 V360.00" stroke="#000" stroke-width="0.75" fill="none" stroke-linecap="square"/>
<text x="516.80" y="373.10" font-size="9.30" text-anchor="middle" textLength="17.14" lengthAdjust="spacingAndGlyphs">0.00</text>
<text x="543.40" y="373.10" font-size="9.30" text-anchor="middle" textLength="17.14" lengthAdjust="spacingAndGlyphs">0.25</text>
<text x="570.00" y="373.10" font-size="9.30" text-anchor="middle" textLength="17.14" lengthAdjust="spacingAndGlyphs">0.50</text>
<text x="596.60" y="373.10" font-size="9.30" text-anchor="middle" textLength="17.14" lengthAdjust="spacingAndGlyphs">0.75</text>
<text x="623.20" y="373.10" font-size="9.30" text-anchor="middle" textLength="17.14" lengthAdjust="spacingAndGlyphs">1.00</text>
<text x="649.80" y="373.10" font-size="9.30" text-anchor="middle" textLength="17.14" lengthAdjust="spacingAndGlyphs">1.25</text>
<text x="676.40" y="373.10" font-size="9.30" text-anchor="middle" textLength="17.14" lengthAdjust="spacingAndGlyphs">1.50</text>
<text x="490.10" y="357.40" font-size="9.30" text-anchor="end" textLength="4.90" lengthAdjust="spacingAndGlyphs">0</text>
<text x="490.10" y="323.75" font-size="9.30" text-anchor="end" textLength="4.90" lengthAdjust="spacingAndGlyphs">5</text>
<text x="490.10" y="290.10" font-size="9.30" text-anchor="end" textLength="9.80" lengthAdjust="spacingAndGlyphs">10</text>
<text x="490.10" y="256.45" font-size="9.30" text-anchor="end" textLength="9.80" lengthAdjust="spacingAndGlyphs">15</text>
<text x="490.10" y="222.80" font-size="9.30" text-anchor="end" textLength="9.80" lengthAdjust="spacingAndGlyphs">20</text>
<path d="M517.40,360.00 V363.20 M544.00,360.00 V363.20 M570.60,360.00 V363.20 M597.20,360.00 V363.20 M623.80,360.00 V363.20 M650.40,360.00 V363.20 M677.00,360.00 V363.20 M492.30,353.20 H495.50 M492.30,319.55 H495.50 M492.30,285.90 H495.50 M492.30,252.25 H495.50 M492.30,218.60 H495.50" stroke="#000" stroke-width="0.75" fill="none"/>
<text x="585.55" y="200.10" font-size="10.80" text-anchor="middle" textLength="62.71" lengthAdjust="spacingAndGlyphs">symptomatic</text>
<text x="0.00" y="0.00" font-size="9.30" text-anchor="middle" textLength="34.30" lengthAdjust="spacingAndGlyphs" transform="translate(475.40,283.55) rotate(-90)">Posterior</text>
<rect x="33.50" y="395.50" width="181.00" height="156.00" fill="#f4f4f4"/>
<g clip-path="url(#c6)" fill="none" stroke-linejoin="round">
<path d="M34.2,544.2 35.1,544.2 36.0,544.2 36.9,544.2 37.8,544.2 38.7,544.2 39.6,544.2 40.5,544.2 41.4,544.2 42.3,544.2 43.2,544.2 44.2,544.2 45.1,544.2 46.0,544.2 46.9,544.2 47.8,544.2 48.7,544.1 49.6,544.1 50.5,544.1 51.4,544.1 52.3,544.1 53.2,544.1 54.1,544.1 55.0,544.1 55.9,544.0 56.8,544.0 57.7,544.0 58.7,544.0 59.6,543.9 60.5,543.9 61.4,543.9 62.3,543.8 63.2,543.8 64.1,543.8 65.0,543.7 65.9,543.7 66.8,543.6 67.7,543.5 68.6,543.5 69.5,543.4 70.4,543.3 71.3,543.3 72.2,543.2 73.1,543.1 74.1,543.0 75.0,542.9 75.9,542.8 76.8,542.7 77.7,542.6 78.6,542.5 79.5,542.4 80.4,542.3 81.3,542.1 82.2,542.0 83.1,541.9 84.0,541.8 84.9,541.7 85.8,541.5 86.7,541.4 87.6,541.3 88.6,541.2 89.5,541.1 90.4,541.0 91.3,540.9 92.2,540.8 93.1,540.7 94.0,540.6 94.9,540.5 95.8,540.4 96.7,540.3 97.6,540.3 98.5,540.2 99.4,540.2 100.3,540.1 101.2,540.1 102.1,540.1 103.1,540.1 104.0,540.1 104.9,540.1 105.8,540.1 106.7,540.2 107.6,540.2 108.5,540.3 109.4,540.3 110.3,540.4 111.2,540.5 112.1,540.5 113.0,540.6 113.9,540.7 114.8,540.8 115.7,540.9 116.6,541.1 117.5,541.2 118.5,541.3 119.4,541.4 120.3,541.5 121.2,541.6 122.1,541.8 123.0,541.9 123.9,542.0 124.8,542.1 125.7,542.2 126.6,542.4 127.5,542.5 128.4,542.6 129.3,542.7 130.2,542.8 131.1,542.9 132.0,543.0 133.0,543.1 133.9,543.2 134.8,543.2 135.7,543.3 136.6,543.4 137.5,543.5 138.4,543.5 139.3,543.6 140.2,543.6 141.1,543.7 142.0,543.7 142.9,543.8 143.8,543.8 144.7,543.9 145.6,543.9 146.5,543.9 147.4,544.0 148.4,544.0 149.3,544.0 150.2,544.0 151.1,544.1 152.0,544.1 152.9,544.1 153.8,544.1 154.7,544.1 155.6,544.1 156.5,544.1 157.4,544.1 158.3,544.2 159.2,544.2 160.1,544.2 161.0,544.2 161.9,544.2 162.9,544.2 163.8,544.2 164.7,544.2 165.6,544.2 166.5,544.2 167.4,544.2 168.3,544.2 169.2,544.2 170.1,544.2 171.0,544.2 171.9,544.2 172.8,544.2 173.7,544.2 174.6,544.2 175.5,544.2 176.4,544.2 177.4,544.2 178.3,544.2 179.2,544.2 180.1,544.2 181.0,544.2 181.9,544.2 182.8,544.2 183.7,544.2 184.6,544.2 185.5,544.2 186.4,544.2 187.3,544.2 188.2,544.2 189.1,544.2 190.0,544.2 190.9,544.2 191.8,544.2 192.8,544.2 193.7,544.2 194.6,544.2 195.5,544.2 196.4,544.2 197.3,544.2 198.2,544.2 199.1,544.2 200.0,544.2 200.9,544.2 201.8,544.2 202.7,544.2 203.6,544.2 204.5,544.2 205.4,544.2 206.3,544.2 207.3,544.2 208.2,544.2 209.1,544.2 210.0,544.2 210.9,544.2 211.8,544.2 212.7,544.2 213.6,544.2 214.5,544.2" stroke="#000" stroke-width="1.6" stroke-dasharray="5.96,2.59" stroke-dashoffset="5.74"/>
<path d="M74.9,543.0 75.3,542.9 75.7,542.9 76.1,542.8 76.5,542.8 76.8,542.7 77.2,542.7 77.6,542.6 78.0,542.5 78.4,542.5 78.8,542.4 79.2,542.4 79.5,542.3 79.9,542.2 80.3,542.2 80.7,542.1 81.1,542.0 81.5,542.0 81.8,541.9 82.2,541.8 82.6,541.8 83.0,541.7 83.4,541.6 83.8,541.6 84.2,541.5 84.5,541.4 84.9,541.3 85.3,541.3 85.7,541.2 86.1,541.1 86.5,541.0 86.8,541.0 87.2,540.9 87.6,540.8 88.0,540.7 88.4,540.6 88.8,540.6 89.2,540.5 89.5,540.4 89.9,540.3 90.3,540.3 90.7,540.2 91.1,540.1 91.5,540.0 91.9,540.0 92.2,539.9 92.6,539.8 93.0,539.7 93.4,539.7 93.8,539.6 94.2,539.5 94.5,539.4 94.9,539.4 95.3,539.3 95.7,539.2 96.1,539.2 96.5,539.1 96.9,539.0 97.2,539.0 97.6,538.9 98.0,538.9 98.4,538.8 98.8,538.8 99.2,538.7 99.6,538.7 99.9,538.6 100.3,538.6 100.7,538.5 101.1,538.5 101.5,538.4 101.9,538.4 102.2,538.4 102.6,538.3 103.0,538.3 103.4,538.3 103.8,538.3 104.2,538.2 104.6,538.2 104.9,538.2 105.3,538.2 105.7,538.2 106.1,538.2 106.5,538.2 106.9,538.2 107.2,538.2 107.6,538.2 108.0,538.2 108.4,538.2 108.8,538.2 109.2,538.2 109.6,538.3 109.9,538.3 110.3,538.3 110.7,538.4 111.1,538.4 111.5,538.5 111.9,538.5 112.3,538.6 112.6,538.7 113.0,538.7 113.4,538.8 113.8,538.9 114.2,538.9 114.6,539.0 114.9,539.1 115.3,539.2 115.7,539.3 116.1,539.3 116.5,539.4 116.9,539.5 117.3,539.6 117.6,539.7 118.0,539.8 118.4,539.9 118.8,540.0 119.2,540.1 119.6,540.2 120.0,540.3 120.3,540.4 120.7,540.5 121.1,540.6 121.5,540.7 121.9,540.8 122.3,540.9 122.6,541.0 123.0,541.1 123.4,541.2 123.8,541.3 124.2,541.4 124.6,541.5 125.0,541.6 125.3,541.7 125.7,541.8 126.1,541.9 126.5,542.0 126.9,542.0 127.3,542.1 127.6,542.2 128.0,542.3 128.4,542.4 128.8,542.4 129.2,542.5 129.6,542.6 130.0,542.7 130.3,542.7 130.7,542.8 131.1,542.9 131.5,542.9 131.9,543.0 132.3,543.1 132.7,543.1 133.0,543.2 133.4,543.2 133.8,543.3 134.2,543.3 134.6,543.4 135.0,543.4 135.3,543.5 135.7,543.5 136.1,543.5" stroke="#a9dca3" stroke-width="3.00" stroke-linecap="square"/>
<path d="M92.9,525.6 93.0,525.1 93.0,524.6 93.1,524.1 93.1,523.6 93.1,523.1 93.2,522.6 93.2,522.2 93.2,521.8 93.3,521.4 93.3,521.0 93.4,520.7 93.4,520.3 93.4,520.0 93.5,519.8 93.5,519.5 93.5,519.3 93.6,519.1 93.6,518.9 93.7,518.8 93.7,518.7 93.7,518.6 93.8,518.6 93.9,518.7 93.9,518.9 94.0,519.0 94.0,519.3 94.0,519.6 94.1,519.9 94.1,520.3 94.1,520.7 94.2,521.2 94.2,521.7 94.3,522.2 94.3,522.8 94.3,523.4 94.4,524.0 94.4,524.6 94.4,525.3 94.5,526.0 94.5,526.7 94.6,527.4 94.6,528.1 94.6,528.8 94.7,529.5 94.7,530.2 94.7,530.8 94.8,531.5 94.8,532.2 94.9,532.9 94.9,533.5 94.9,534.1 95.0,534.8 95.0,535.3 95.0,535.9 95.1,536.5 95.1,537.0 95.2,537.5 95.2,538.0 95.2,538.4 95.3,538.9 95.3,539.3 95.3,539.7 95.4,540.1 95.4,540.4 95.5,540.7 95.5,541.0 95.5,541.3 95.6,541.6 95.6,541.8 95.6,542.0 95.7,542.3 95.7,542.4 95.7,542.6 95.8,542.8 95.8,542.9 95.9,543.1 95.9,543.2 95.9,543.3 96.0,543.4 96.0,543.5 96.0,543.6 96.1,543.6 96.1,543.7 96.2,543.8 96.2,543.9 96.3,543.9 96.3,544.0 96.4,544.0 96.5,544.1 96.6,544.1 96.7,544.1 96.7,544.2 96.8,544.2 96.9,544.2 97.0,544.2 97.1,544.2 97.2,544.2 97.3,544.2 97.4,544.2 97.5,544.2 97.6,544.2 97.7,544.2 97.8,544.2 97.9,544.2 98.0,544.2 98.1,544.2 98.2,544.2 98.3,544.2 98.4,544.2 98.5,544.2 98.6,544.2 98.7,544.2 98.8,544.2 98.9,544.2" stroke="#83cb82" stroke-width="3.00" stroke-linecap="square"/>
<path d="M84.3,544.0 84.4,544.0 84.5,543.9 84.6,543.9 84.7,543.8 84.8,543.7 84.9,543.6 85.0,543.6 85.0,543.5 85.1,543.4 85.1,543.3 85.2,543.2 85.2,543.1 85.3,543.0 85.4,542.9 85.4,542.7 85.5,542.6 85.5,542.4 85.6,542.2 85.7,542.0 85.7,541.8 85.8,541.6 85.8,541.3 85.9,541.1 86.0,540.8 86.0,540.5 86.1,540.2 86.1,539.9 86.2,539.5 86.2,539.1 86.3,538.7 86.4,538.3 86.4,537.8 86.5,537.4 86.5,536.9 86.6,536.4 86.7,535.8 86.7,535.3 86.8,534.7 86.8,534.1 86.9,533.4 87.0,532.8 87.0,532.1 87.1,531.4 87.1,530.7 87.2,530.0 87.2,529.2 87.3,528.5 87.4,527.7 87.4,526.9 87.5,526.1 87.5,525.3 87.6,524.5 87.7,523.7 87.7,522.9 87.8,522.1 87.8,521.3 87.9,520.6 87.9,519.8 88.0,519.0 88.1,518.3 88.1,517.6 88.2,516.9 88.2,516.2 88.3,515.5 88.4,514.9 88.4,514.3 88.5,513.8 88.5,513.3 88.6,512.8 88.7,512.4 88.7,512.0 88.8,511.7 88.8,511.4 88.9,511.1 88.9,511.0 89.0,510.8 89.1,510.7 89.2,510.7 89.2,510.8 89.3,510.9 89.4,511.1 89.4,511.3 89.5,511.6 89.5,511.9 89.6,512.3 89.7,512.7 89.7,513.2 89.8,513.7 89.8,514.2 89.9,514.8 89.9,515.4 90.0,516.0 90.1,516.7 90.1,517.4 90.2,518.1 90.2,518.8 90.3,519.6 90.4,520.4 90.4,521.2 90.5,522.0 90.5,522.8 90.6,523.6 90.6,524.4 90.7,525.2 90.8,526.0 90.8,526.7 90.9,527.5 90.9,528.3 91.0,529.1 91.1,529.8 91.1,530.5 91.2,531.3 91.2,532.0 91.3,532.6 91.4,533.3 91.4,533.9 91.5,534.5 91.5,535.1 91.6,535.7 91.6,536.2 91.7,536.8 91.8,537.3 91.8,537.7 91.9,538.2 91.9,538.6 92.0,539.0 92.1,539.4 92.1,539.8 92.2,540.1 92.2,540.4 92.3,540.7 92.4,541.0 92.4,541.3 92.5,541.5 92.5,541.8 92.6,542.0 92.6,542.2 92.7,542.4 92.8,542.5 92.8,542.7 92.9,542.8 92.9,543.0 93.0,543.1 93.1,543.2 93.1,543.3 93.2,543.4 93.2,543.5 93.3,543.5 93.3,543.6 93.4,543.7 93.5,543.7 93.5,543.8 93.6,543.8" stroke="#58b668" stroke-width="3.00" stroke-linecap="square"/>
<path d="M85.1,544.0 85.2,544.0 85.2,543.9 85.3,543.9 85.4,543.8 85.5,543.7 85.5,543.6 85.6,543.6 85.6,543.5 85.7,543.4 85.7,543.3 85.8,543.2 85.8,543.0 85.9,542.9 86.0,542.7 86.0,542.6 86.1,542.4 86.1,542.2 86.2,542.0 86.2,541.7 86.3,541.5 86.3,541.2 86.4,540.8 86.4,540.5 86.5,540.1 86.5,539.7 86.6,539.3 86.6,538.9 86.7,538.4 86.8,537.8 86.8,537.3 86.9,536.7 86.9,536.1 87.0,535.4 87.0,534.7 87.1,533.9 87.1,533.1 87.2,532.3 87.2,531.4 87.3,530.5 87.3,529.6 87.4,528.6 87.4,527.6 87.5,526.5 87.6,525.5 87.6,524.3 87.7,523.2 87.7,522.0 87.8,520.8 87.8,519.6 87.9,518.4 87.9,517.1 88.0,515.8 88.0,514.6 88.1,513.3 88.1,512.0 88.2,510.7 88.2,509.5 88.3,508.2 88.4,507.0 88.4,505.8 88.5,504.6 88.5,503.5 88.6,502.4 88.6,501.4 88.7,500.4 88.7,499.5 88.8,498.6 88.8,497.8 88.9,497.0 88.9,496.4 89.0,495.8 89.0,495.3 89.1,494.8 89.2,494.5 89.2,494.2 89.3,494.0 89.4,494.0 89.5,494.2 89.5,494.5 89.6,494.8 89.6,495.3 89.7,495.8 89.7,496.4 89.8,497.0 89.8,497.8 89.9,498.6 90.0,499.5 90.0,500.4 90.1,501.4 90.1,502.4 90.2,503.5 90.2,504.6 90.3,505.8 90.3,507.0 90.4,508.2 90.4,509.5 90.5,510.7 90.5,512.0 90.6,513.3 90.6,514.6 90.7,515.8 90.8,517.1 90.8,518.4 90.9,519.6 90.9,520.8 91.0,522.0 91.0,523.2 91.1,524.3 91.1,525.5 91.2,526.5 91.2,527.6 91.3,528.6 91.3,529.6 91.4,530.5 91.4,531.4 91.5,532.3 91.6,533.1 91.6,533.9 91.7,534.7 91.7,535.4 91.8,536.1 91.8,536.7 91.9,537.3 91.9,537.8 92.0,538.4 92.0,538.9 92.1,539.3 92.1,539.7 92.2,540.1 92.2,540.5 92.3,540.8 92.4,541.2 92.4,541.5 92.5,541.7 92.5,542.0 92.6,542.2 92.6,542.4 92.7,542.6 92.7,542.7 92.8,542.9 92.8,543.0 92.9,543.2 92.9,543.3 93.0,543.4 93.1,543.5 93.1,543.6 93.2,543.6 93.2,543.7 93.3,543.8 93.4,543.9 93.5,543.9 93.5,544.0 93.6,544.0" stroke="#359e53" stroke-width="3.00" stroke-linecap="square"/>
<path d="M85.9,544.0 86.0,544.0 86.1,544.0 86.1,543.9 86.2,543.9 86.2,543.8 86.3,543.8 86.3,543.7 86.4,543.6 86.4,543.5 86.5,543.5 86.5,543.3 86.6,543.2 86.6,543.1 86.6,543.0 86.7,542.8 86.7,542.6 86.8,542.4 86.8,542.2 86.9,541.9 86.9,541.6 87.0,541.3 87.0,541.0 87.1,540.6 87.1,540.2 87.2,539.8 87.2,539.3 87.3,538.8 87.3,538.3 87.3,537.7 87.4,537.0 87.4,536.3 87.5,535.5 87.5,534.7 87.6,533.9 87.6,533.0 87.7,532.0 87.7,530.9 87.8,529.8 87.8,528.7 87.9,527.5 87.9,526.2 88.0,524.9 88.0,523.5 88.0,522.0 88.1,520.5 88.1,518.9 88.2,517.3 88.2,515.6 88.3,513.9 88.3,512.2 88.4,510.4 88.4,508.6 88.5,506.7 88.5,504.9 88.6,503.0 88.6,501.1 88.7,499.3 88.7,497.4 88.7,495.5 88.8,493.7 88.8,491.9 88.9,490.2 88.9,488.5 89.0,486.8 89.0,485.2 89.1,483.7 89.1,482.3 89.2,481.0 89.2,479.7 89.3,478.6 89.3,477.6 89.4,476.7 89.4,475.9 89.4,475.2 89.5,474.7 89.5,474.3 89.6,474.0 89.6,473.9 89.7,473.9 89.7,474.0 89.8,474.3 89.8,474.7 89.9,475.2 89.9,475.9 90.0,476.7 90.0,477.6 90.1,478.6 90.1,479.7 90.1,481.0 90.2,482.3 90.2,483.7 90.3,485.2 90.3,486.8 90.4,488.5 90.4,490.2 90.5,491.9 90.5,493.7 90.6,495.5 90.6,497.4 90.7,499.3 90.7,501.1 90.8,503.0 90.8,504.9 90.9,506.7 90.9,508.6 90.9,510.4 91.0,512.2 91.0,513.9 91.1,515.6 91.1,517.3 91.2,518.9 91.2,520.5 91.3,522.0 91.3,523.5 91.4,524.9 91.4,526.2 91.5,527.5 91.5,528.7 91.6,529.8 91.6,530.9 91.6,532.0 91.7,533.0 91.7,533.9 91.8,534.7 91.8,535.5 91.9,536.3 91.9,537.0 92.0,537.7 92.0,538.3 92.1,538.8 92.1,539.3 92.2,539.8 92.2,540.2 92.3,540.6 92.3,541.0 92.3,541.3 92.4,541.6 92.4,541.9 92.5,542.2 92.5,542.4 92.6,542.6 92.6,542.8 92.7,543.0 92.7,543.1 92.8,543.2 92.8,543.3 92.9,543.5 93.0,543.6 93.0,543.7 93.0,543.8 93.1,543.8 93.1,543.9 93.2,543.9 93.2,544.0 93.3,544.0 93.4,544.0" stroke="#19833e" stroke-width="3.00" stroke-linecap="square"/>
<path d="M86.7,544.1 86.8,544.1 86.9,544.1 87.0,544.0 87.1,544.0 87.1,543.9 87.2,543.8 87.2,543.7 87.3,543.7 87.3,543.6 87.3,543.5 87.4,543.3 87.4,543.2 87.5,543.1 87.5,542.9 87.5,542.7 87.6,542.5 87.6,542.2 87.7,541.9 87.7,541.6 87.7,541.3 87.8,540.9 87.8,540.5 87.9,540.0 87.9,539.5 88.0,538.9 88.0,538.2 88.0,537.5 88.1,536.8 88.1,535.9 88.2,535.0 88.2,534.1 88.2,533.0 88.3,531.8 88.3,530.6 88.4,529.3 88.4,527.9 88.4,526.4 88.5,524.8 88.5,523.1 88.6,521.3 88.6,519.4 88.6,517.5 88.7,515.4 88.7,513.3 88.8,511.0 88.8,508.7 88.8,506.3 88.9,503.9 88.9,501.4 89.0,498.8 89.0,496.2 89.0,493.5 89.1,490.9 89.1,488.2 89.2,485.5 89.2,482.9 89.3,480.2 89.3,477.6 89.3,475.1 89.4,472.6 89.4,470.2 89.5,467.9 89.5,465.7 89.5,463.6 89.6,461.7 89.6,459.9 89.7,458.3 89.7,456.8 89.7,455.6 89.8,454.5 89.8,453.6 89.9,452.9 89.9,452.4 89.9,452.1 90.0,452.1 90.0,452.2 90.1,452.6 90.1,453.2 90.1,453.9 90.2,454.9 90.2,456.1 90.3,457.4 90.3,458.9 90.4,460.6 90.4,462.5 90.4,464.4 90.5,466.6 90.5,468.8 90.6,471.1 90.6,473.6 90.6,476.1 90.7,478.6 90.7,481.2 90.8,483.9 90.8,486.6 90.8,489.2 90.9,491.9 90.9,494.6 91.0,497.2 91.0,499.8 91.0,502.4 91.1,504.8 91.1,507.3 91.2,509.6 91.2,511.9 91.2,514.1 91.3,516.2 91.3,518.3 91.4,520.2 91.4,522.0 91.5,523.8 91.5,525.4 91.5,527.0 91.6,528.5 91.6,529.8 91.7,531.1 91.7,532.3 91.7,533.4 91.8,534.5 91.8,535.4 91.9,536.3 91.9,537.1 91.9,537.8 92.0,538.5 92.0,539.1 92.1,539.7 92.1,540.2 92.1,540.6 92.2,541.1 92.2,541.4 92.3,541.8 92.3,542.1 92.3,542.3 92.4,542.6 92.4,542.8 92.5,543.0 92.5,543.1 92.5,543.3 92.6,543.4 92.6,543.5 92.7,543.6 92.7,543.7 92.8,543.8 92.8,543.9 92.9,543.9 92.9,544.0 93.0,544.0 93.0,544.1 93.1,544.1 93.2,544.1" stroke="#006729" stroke-width="3.00" stroke-linecap="square"/>
<path d="M86.7,544.2 86.8,544.2 86.9,544.2 86.9,544.1 87.0,544.1 87.1,544.1 87.1,544.0 87.2,544.0 87.2,543.9 87.3,543.8 87.3,543.7 87.4,543.6 87.4,543.4 87.4,543.3 87.5,543.1 87.5,542.9 87.5,542.7 87.6,542.4 87.6,542.0 87.6,541.6 87.7,541.2 87.7,540.7 87.8,540.1 87.8,539.4 87.8,538.6 87.9,537.8 87.9,536.8 87.9,535.7 88.0,534.4 88.0,533.1 88.0,531.5 88.1,529.9 88.1,528.0 88.2,526.0 88.2,523.7 88.2,521.3 88.3,518.7 88.3,515.9 88.3,512.8 88.4,509.6 88.4,506.1 88.5,502.4 88.5,498.6 88.5,494.5 88.6,490.2 88.6,485.8 88.6,481.3 88.7,476.6 88.7,471.8 88.7,466.9 88.8,461.9 88.8,456.9 88.9,452.0 88.9,447.0 88.9,442.2 89.0,437.4 89.0,432.9 89.0,428.5 89.1,424.3 89.1,420.4 89.1,416.8 89.2,413.5 89.2,410.5 89.3,408.0 89.3,405.9 89.3,404.2 89.4,402.9 89.4,402.1 89.4,401.8 89.5,402.0 89.5,402.6 89.6,403.7 89.6,405.3 89.6,407.3 89.7,409.7 89.7,412.5 89.7,415.6 89.8,419.2 89.8,423.0 89.8,427.1 89.9,431.4 89.9,435.9 90.0,440.6 90.0,445.4 90.0,450.4 90.1,455.3 90.1,460.3 90.1,465.2 90.2,470.2 90.2,475.0 90.2,479.7 90.3,484.4 90.3,488.8 90.4,493.1 90.4,497.2 90.4,501.2 90.5,504.9 90.5,508.4 90.5,511.8 90.6,514.9 90.6,517.8 90.7,520.5 90.7,523.0 90.7,525.3 90.8,527.4 90.8,529.3 90.8,531.0 90.9,532.6 90.9,534.0 90.9,535.3 91.0,536.4 91.0,537.5 91.1,538.4 91.1,539.2 91.1,539.9 91.2,540.5 91.2,541.0 91.2,541.5 91.3,541.9 91.3,542.3 91.3,542.6 91.4,542.8 91.4,543.0 91.5,543.2 91.5,543.4 91.5,543.5 91.6,543.7 91.6,543.8 91.7,543.9 91.7,544.0 91.8,544.0 91.8,544.1 91.9,544.1 92.0,544.1 92.0,544.2 92.1,544.2 92.2,544.2 92.3,544.2 92.4,544.2 92.5,544.2" stroke="#00441b" stroke-width="3.00" stroke-linecap="square"/>
</g>
<path d="M33.50,395.50 H214.50 M33.50,551.50 H214.50 M33.50,395.50 V551.50 M214.50,395.50 V551.50" stroke="#000" stroke-width="0.75" fill="none" stroke-linecap="square"/>
<text x="54.80" y="564.60" font-size="9.30" text-anchor="middle" textLength="17.14" lengthAdjust="spacingAndGlyphs">0.00</text>
<text x="81.32" y="564.60" font-size="9.30" text-anchor="middle" textLength="17.14" lengthAdjust="spacingAndGlyphs">0.25</text>
<text x="107.83" y="564.60" font-size="9.30" text-anchor="middle" textLength="17.14" lengthAdjust="spacingAndGlyphs">0.50</text>
<text x="134.35" y="564.60" font-size="9.30" text-anchor="middle" textLength="17.14" lengthAdjust="spacingAndGlyphs">0.75</text>
<text x="160.87" y="564.60" font-size="9.30" text-anchor="middle" textLength="17.14" lengthAdjust="spacingAndGlyphs">1.00</text>
<text x="187.38" y="564.60" font-size="9.30" text-anchor="middle" textLength="17.14" lengthAdjust="spacingAndGlyphs">1.25</text>
<text x="213.90" y="564.60" font-size="9.30" text-anchor="middle" textLength="17.14" lengthAdjust="spacingAndGlyphs">1.50</text>
<text x="28.10" y="548.40" font-size="9.30" text-anchor="end" textLength="4.90" lengthAdjust="spacingAndGlyphs">0</text>
<text x="28.10" y="514.90" font-size="9.30" text-anchor="end" textLength="9.80" lengthAdjust="spacingAndGlyphs">20</text>
<text x="28.10" y="481.40" font-size="9.30" text-anchor="end" textLength="9.80" lengthAdjust="spacingAndGlyphs">40</text>
<text x="28.10" y="447.90" font-size="9.30" text-anchor="end" textLength="9.80" lengthAdjust="spacingAndGlyphs">60</text>
<text x="28.10" y="414.40" font-size="9.30" text-anchor="end" textLength="9.80" lengthAdjust="spacingAndGlyphs">80</text>
<path d="M55.40,551.50 V554.70 M81.92,551.50 V554.70 M108.43,551.50 V554.70 M134.95,551.50 V554.70 M161.47,551.50 V554.70 M187.98,551.50 V554.70 M214.50,551.50 V554.70 M30.30,544.20 H33.50 M30.30,510.70 H33.50 M30.30,477.20 H33.50 M30.30,443.70 H33.50 M30.30,410.20 H33.50" stroke="#000" stroke-width="0.75" fill="none"/>
<text x="123.30" y="391.10" font-size="10.80" text-anchor="middle" textLength="68.59" lengthAdjust="spacingAndGlyphs">asymptomatic</text>
<text x="0.00" y="0.00" font-size="9.30" text-anchor="middle" textLength="34.30" lengthAdjust="spacingAndGlyphs" transform="translate(13.20,474.80) rotate(-90)">Posterior</text>
</g>
<g font-family='&quot;Liberation Sans&quot;, sans-serif' fill="#000">
<rect x="247.20" y="395.60" width="89.30" height="129.40" rx="2.8" ry="2.8" fill="#fff" stroke="#ccc" stroke-width="0.75"/>
<path d="M250.5,403.65 H272.0" stroke="#000" stroke-width="1.6" stroke-dasharray="5.96,2.59" fill="none"/>
<text x="280.50" y="408.45" font-size="10.60" text-anchor="start" textLength="24.08" lengthAdjust="spacingAndGlyphs">Prior</text>
<path d="M250.7,419.40 H271.7" stroke="#a9dca3" stroke-width="3.00" stroke-linecap="square" fill="none"/>
<text x="280.50" y="424.20" font-size="10.60" text-anchor="start" textLength="51.16" lengthAdjust="spacingAndGlyphs">Window 1</text>
<path d="M250.7,435.15 H271.7" stroke="#83cb82" stroke-width="3.00" stroke-linecap="square" fill="none"/>
<text x="280.50" y="439.95" font-size="10.60" text-anchor="start" textLength="51.16" lengthAdjust="spacingAndGlyphs">Window 2</text>
<path d="M250.7,450.90 H271.7" stroke="#58b668" stroke-width="3.00" stroke-linecap="square" fill="none"/>
<text x="280.50" y="455.70" font-size="10.60" text-anchor="start" textLength="51.16" lengthAdjust="spacingAndGlyphs">Window 3</text>
<path d="M250.7,466.65 H271.7" stroke="#359e53" stroke-width="3.00" stroke-linecap="square" fill="none"/>
<text x="280.50" y="471.45" font-size="10.60" text-anchor="start" textLength="51.16" lengthAdjust="spacingAndGlyphs">Window 4</text>
<path d="M250.7,482.40 H271.7" stroke="#19833e" stroke-width="3.00" stroke-linecap="square" fill="none"/>
<text x="280.50" y="487.20" font-size="10.60" text-anchor="start" textLength="51.16" lengthAdjust="spacingAndGlyphs">Window 5</text>
<path d="M250.7,498.15 H271.7" stroke="#006729" stroke-width="3.00" stroke-linecap="square" fill="none"/>
<text x="280.50" y="502.95" font-size="10.60" text-anchor="start" textLength="51.16" lengthAdjust="spacingAndGlyphs">Window 6</text>
<path d="M250.7,513.90 H271.7" stroke="#00441b" stroke-width="3.00" stroke-linecap="square" fill="none"/>
<text x="280.50" y="518.70" font-size="10.60" text-anchor="start" textLength="51.16" lengthAdjust="spacingAndGlyphs">Window 7</text>
</g>
</svg>
</body></html>
